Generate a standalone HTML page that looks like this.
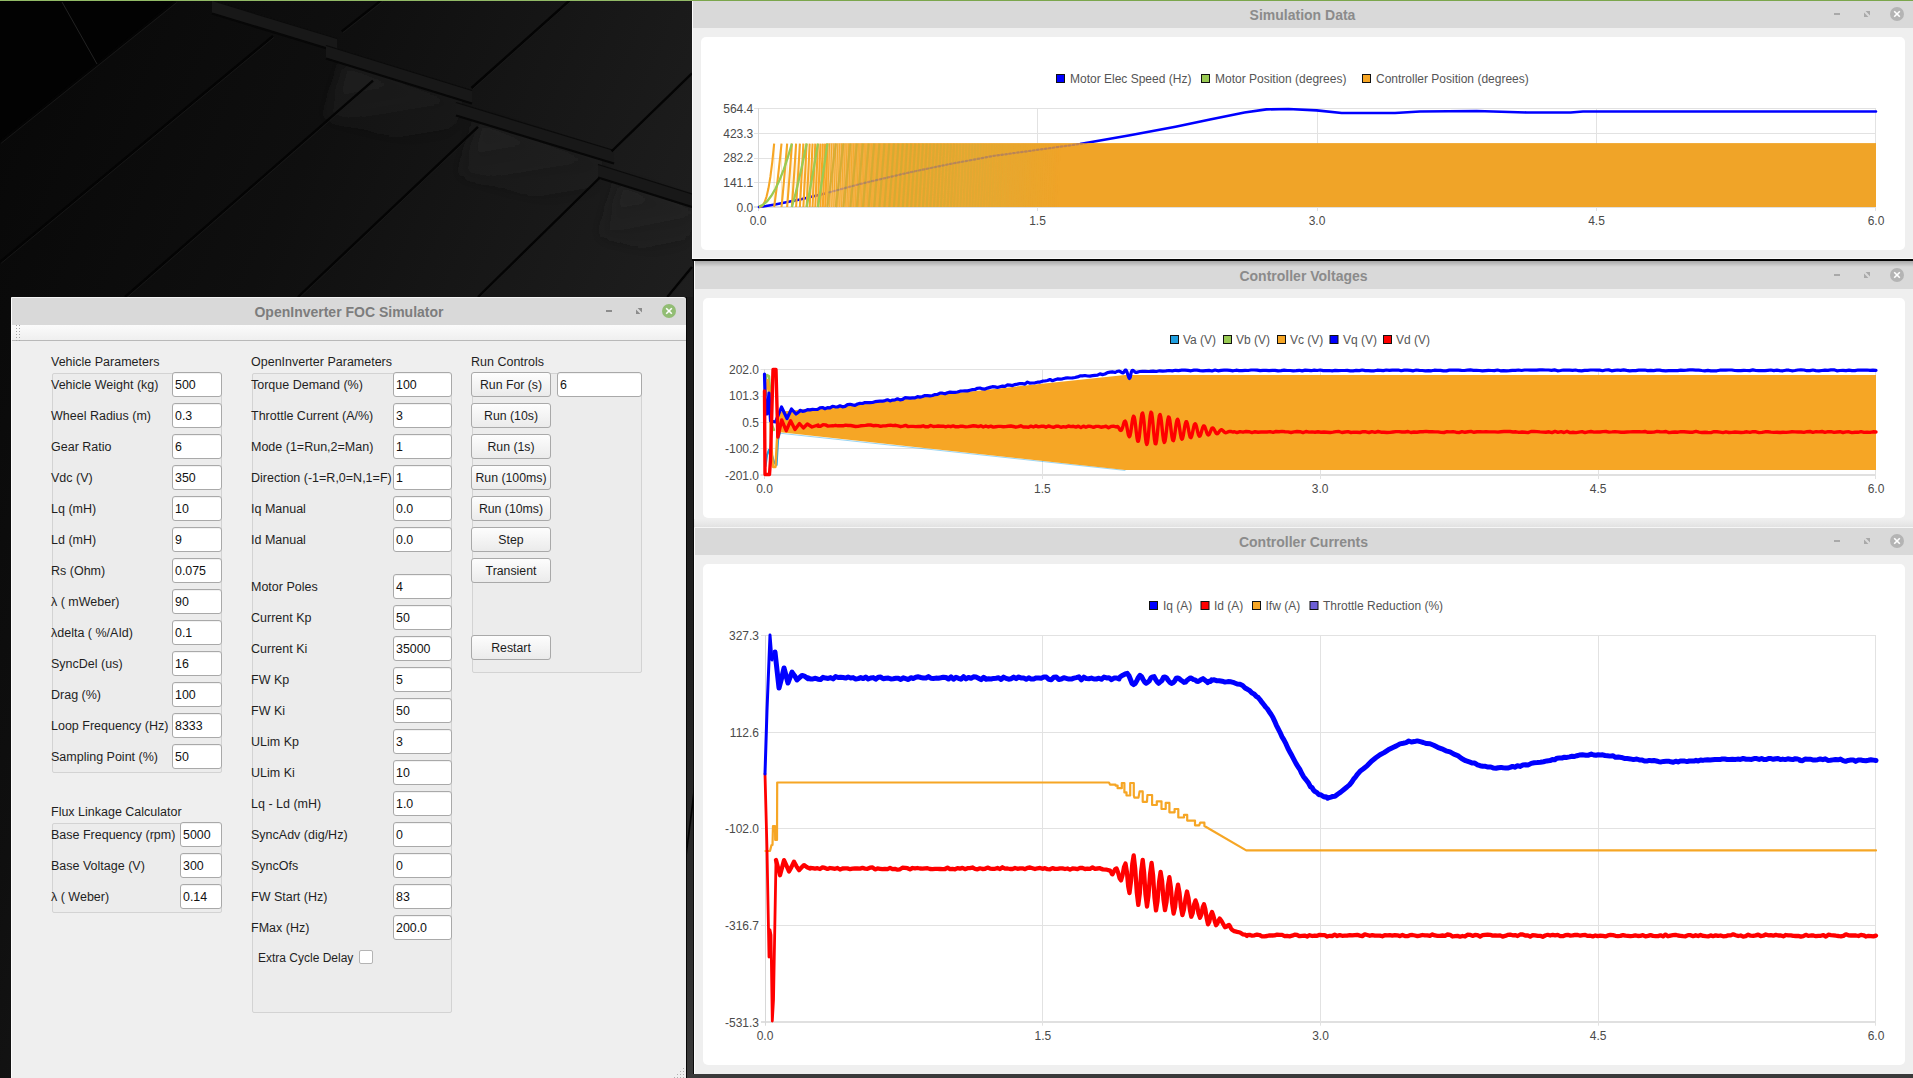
<!DOCTYPE html><html><head><meta charset="utf-8"><title>OpenInverter FOC Simulator</title><style>

*{margin:0;padding:0;box-sizing:border-box}
html,body{width:1913px;height:1078px;overflow:hidden;background:#111}
body{position:relative;font-family:"Liberation Sans",Arial,sans-serif;}
.abs{position:absolute}
.win{position:absolute;background:#efefef;overflow:hidden}
.wl{position:absolute;left:0;top:0;bottom:0;width:1px;background:#fbfbfb}
.tb{position:absolute;left:0;right:0;top:0;height:27px;background:#d9d9d9}
.tt{position:absolute;left:0;right:0;top:6px;text-align:center;font-weight:bold;font-size:14px;line-height:17px;color:#8b8b8b;white-space:nowrap}
.card{position:absolute;background:#fff;border-radius:5px}
.t{position:absolute;white-space:nowrap;font-size:12px;line-height:14px;color:#555}
.lg{position:absolute;width:9px;height:9px;border:1px solid #111}
.wmin{position:absolute;width:6px;height:2px;background:#a9a9a9}
.wcl{position:absolute;width:14px;height:14px;border-radius:50%;background:#b4b4b4}


.dlg{position:absolute;left:11px;top:297px;width:675px;height:790px;background:#efefef;border-left:1px solid #fdfdfd;border-top:1px solid #f4f4f4;border-top-right-radius:3px;overflow:hidden}
.dtb{position:absolute;left:0;right:0;top:0;height:27px;background:#d9d9d9}
.dtt{position:absolute;left:0;right:0;top:6px;text-align:center;font-weight:bold;font-size:14px;line-height:17px;color:#7d7d7d;white-space:nowrap}
.tool{position:absolute;left:0;right:0;top:27px;height:16px;background:linear-gradient(#fbfbfb,#efefef);border-bottom:1px solid #b9b9b9}
.fr{position:absolute;background:#ececec;border:1px solid #d3d3d3;border-radius:2px}
.lb{position:absolute;white-space:nowrap;font-size:12.5px;line-height:15px;color:#1f1f1f}
.in{position:absolute;height:25px;background:#fff;border:1px solid #a9a9a9;border-radius:3px;font-size:12.4px;line-height:25px;padding-left:2px;color:#111;white-space:nowrap;box-shadow:inset 0 1px 0 #f2f2f2}
.bt{position:absolute;width:80px;height:25px;background:linear-gradient(#fdfdfd,#ebebeb);border:1px solid #a9a9a9;border-radius:3px;font-size:12.3px;line-height:25px;text-align:center;color:#1c1c1c;white-space:nowrap}
.cb{position:absolute;width:14px;height:14px;background:#fff;border:1px solid #b4b4b4;border-radius:2px}
.gd{position:absolute;width:1px;height:1px;background:#a4a4a4}

</style></head><body>
<svg class="abs" style="left:0;top:0" width="1913" height="1078" viewBox="0 0 1913 1078">
<defs><linearGradient id="bgg" x1="0" y1="0" x2="700" y2="300" gradientUnits="userSpaceOnUse"><stop offset="0" stop-color="#070707"/><stop offset="0.45" stop-color="#0f0f0f"/><stop offset="1" stop-color="#1f1f1f"/></linearGradient><linearGradient id="rdg" x1="0" y1="0" x2="0" y2="1"><stop offset="0" stop-color="#191919"/><stop offset="1" stop-color="#111"/></linearGradient></defs>
<rect width="1913" height="1078" fill="url(#bgg)"/>
<path d="M0 0H176L0 142Z" fill="#020202"/>
<defs><linearGradient id="shg" x1="0" y1="0" x2="0.25" y2="1"><stop offset="0" stop-color="#262626" stop-opacity="0.8"/><stop offset="1" stop-color="#262626" stop-opacity="0"/></linearGradient><filter id="blr" x="-20%" y="-20%" width="140%" height="140%"><feGaussianBlur stdDeviation="7"/></filter></defs>
<g filter="url(#blr)">
<path d="M345 62 L465 100 L445 155 L325 117 Z" fill="url(#shg)"/>
<path d="M480 119 L605 160 L585 215 L460 174 Z" fill="url(#shg)"/>
<path d="M620 181 L700 207 L680 262 L600 236 Z" fill="url(#shg)"/>
</g>
<path d="M212 0 L337 38 L337 51 L212 13 Z" fill="#181818"/>
<line x1="212" y1="13.5" x2="337" y2="51.5" stroke="#070707" stroke-width="2.2"/>
<line x1="212" y1="0.5" x2="337" y2="38.5" stroke="#0b0b0b" stroke-width="1.2"/>
<path d="M326 45 L472 90 L472 103 L326 58 Z" fill="#181818"/>
<line x1="326" y1="58.5" x2="472" y2="103.5" stroke="#070707" stroke-width="2.2"/>
<line x1="326" y1="45.5" x2="472" y2="90.5" stroke="#0b0b0b" stroke-width="1.2"/>
<path d="M456 102 L614 150 L614 163 L456 115 Z" fill="#181818"/>
<line x1="456" y1="115.5" x2="614" y2="163.5" stroke="#070707" stroke-width="2.2"/>
<line x1="456" y1="102.5" x2="614" y2="150.5" stroke="#0b0b0b" stroke-width="1.2"/>
<path d="M598 164 L700 196 L700 209 L598 177 Z" fill="#181818"/>
<line x1="598" y1="177.5" x2="700" y2="209.5" stroke="#070707" stroke-width="2.2"/>
<line x1="598" y1="164.5" x2="700" y2="196.5" stroke="#0b0b0b" stroke-width="1.2"/>
<line x1="0" y1="142" x2="175.4" y2="1.4" stroke="#040404" stroke-width="2.4"/>
<line x1="1.2" y1="143.2" x2="176.6" y2="2.5999999999999996" stroke="#1a1a1a" stroke-width="0.8"/>
<line x1="0" y1="262" x2="273" y2="36" stroke="#040404" stroke-width="2.4"/>
<line x1="1.2" y1="263.2" x2="274.2" y2="37.2" stroke="#1a1a1a" stroke-width="0.8"/>
<line x1="125" y1="297" x2="373" y2="80.7" stroke="#040404" stroke-width="2.4"/>
<line x1="126.2" y1="298.2" x2="374.2" y2="81.9" stroke="#1a1a1a" stroke-width="0.8"/>
<line x1="341.8" y1="31.4" x2="381.6" y2="0" stroke="#040404" stroke-width="2.4"/>
<line x1="343.0" y1="32.6" x2="382.8" y2="1.2" stroke="#1a1a1a" stroke-width="0.8"/>
<line x1="298" y1="297" x2="478" y2="126.8" stroke="#040404" stroke-width="2.4"/>
<line x1="299.2" y1="298.2" x2="479.2" y2="128.0" stroke="#1a1a1a" stroke-width="0.8"/>
<line x1="471.5" y1="88" x2="570" y2="0" stroke="#040404" stroke-width="2.4"/>
<line x1="472.7" y1="89.2" x2="571.2" y2="1.2" stroke="#1a1a1a" stroke-width="0.8"/>
<line x1="478" y1="297" x2="599.4" y2="178" stroke="#040404" stroke-width="2.4"/>
<line x1="479.2" y1="298.2" x2="600.6" y2="179.2" stroke="#1a1a1a" stroke-width="0.8"/>
<line x1="611.6" y1="151.3" x2="692" y2="73.4" stroke="#040404" stroke-width="2.4"/>
<line x1="612.8000000000001" y1="152.5" x2="693.2" y2="74.60000000000001" stroke="#1a1a1a" stroke-width="0.8"/>
<line x1="667.3" y1="297" x2="692" y2="267" stroke="#040404" stroke-width="2.4"/>
<line x1="668.5" y1="298.2" x2="693.2" y2="268.2" stroke="#1a1a1a" stroke-width="0.8"/>
<line x1="62" y1="2" x2="97" y2="64" stroke="#222" stroke-width="1"/>
<defs><linearGradient id="stg" x1="0" y1="297" x2="0" y2="1078" gradientUnits="userSpaceOnUse"><stop offset="0" stop-color="#1a1a1a"/><stop offset="0.45" stop-color="#1f1f1f"/><stop offset="0.8" stop-color="#2c2c2c"/><stop offset="1" stop-color="#3a3a3a"/></linearGradient></defs>
<rect x="686" y="297" width="8" height="781" fill="url(#stg)"/>
<rect x="686" y="297" width="1" height="781" fill="#060606"/>
<rect x="693" y="261" width="1" height="817" fill="#0a0a0a"/>
<path d="M686 850 L694 785 L694 800 L686 862 Z" fill="#040404"/>
</svg>
<div class="abs" style="left:0;top:0;width:692px;height:1px;background:#92ba66"></div>
<div class="abs" style="left:692px;top:0;width:1221px;height:1px;background:#7ba64c"></div>
<div class="win" style="left:692px;top:1px;width:1221px;height:258px">
<div class="tb" style="height:27px"></div>
<div class="tt" style="top:6px">Simulation Data</div>
<div class="card" style="left:9px;top:36px;width:1204px;height:213px"></div>
<div class="wl"></div>
</div>
<div class="abs" style="left:1834px;top:13px;width:6px;height:2px;background:#a9a9a9"></div>
<svg class="abs" style="left:1864px;top:11px" width="7" height="7" viewBox="0 0 7 7"><path d="M1.6 0H6V4.4Z M0 1.6V6H4.4Z" fill="#a9a9a9"/></svg>
<svg class="abs" style="left:1889px;top:6px" width="16" height="16" viewBox="0 0 16 16"><circle cx="8" cy="8" r="7" fill="#b4b4b4"/><path d="M5.2 5.2L10.8 10.8M10.8 5.2L5.2 10.8" stroke="#fff" stroke-width="1.6"/></svg>
<svg class="abs" style="left:701px;top:37px" width="1204" height="213" viewBox="701 37 1204 213">
<rect x="1056.5" y="74.5" width="8" height="8" fill="#0000ff" stroke="#111" stroke-width="1"/>
<text x="1070" y="83" font-size="12" fill="#555" font-family="'Liberation Sans',Arial,sans-serif">Motor Elec Speed (Hz)</text>
<rect x="1201.5" y="74.5" width="8" height="8" fill="#99ca53" stroke="#111" stroke-width="1"/>
<text x="1215" y="83" font-size="12" fill="#555" font-family="'Liberation Sans',Arial,sans-serif">Motor Position (degrees)</text>
<rect x="1362.5" y="74.5" width="8" height="8" fill="#f6a625" stroke="#111" stroke-width="1"/>
<text x="1376" y="83" font-size="12" fill="#555" font-family="'Liberation Sans',Arial,sans-serif">Controller Position (degrees)</text>
<line x1="754" y1="108.5" x2="1876" y2="108.5" stroke="#e2e2e2" stroke-width="1"/>
<text x="753.3" y="112.8" text-anchor="end" font-size="12" fill="#4a4a4a" font-family="'Liberation Sans',Arial,sans-serif">564.4</text>
<line x1="754" y1="133.5" x2="1876" y2="133.5" stroke="#e2e2e2" stroke-width="1"/>
<text x="753.3" y="137.6" text-anchor="end" font-size="12" fill="#4a4a4a" font-family="'Liberation Sans',Arial,sans-serif">423.3</text>
<line x1="754" y1="158.5" x2="1876" y2="158.5" stroke="#e2e2e2" stroke-width="1"/>
<text x="753.3" y="162.3" text-anchor="end" font-size="12" fill="#4a4a4a" font-family="'Liberation Sans',Arial,sans-serif">282.2</text>
<line x1="754" y1="182.5" x2="1876" y2="182.5" stroke="#e2e2e2" stroke-width="1"/>
<text x="753.3" y="187.1" text-anchor="end" font-size="12" fill="#4a4a4a" font-family="'Liberation Sans',Arial,sans-serif">141.1</text>
<line x1="754" y1="207" x2="1876" y2="207" stroke="#e0e0e0" stroke-width="2"/>
<text x="753.3" y="211.8" text-anchor="end" font-size="12" fill="#4a4a4a" font-family="'Liberation Sans',Arial,sans-serif">0.0</text>
<line x1="758.5" y1="108" x2="758.5" y2="211" stroke="#d8d8d8" stroke-width="1"/>
<text x="758" y="225" text-anchor="middle" font-size="12" fill="#4a4a4a" font-family="'Liberation Sans',Arial,sans-serif">0.0</text>
<line x1="1037.5" y1="108" x2="1037.5" y2="211" stroke="#e2e2e2" stroke-width="1"/>
<text x="1037.5" y="225" text-anchor="middle" font-size="12" fill="#4a4a4a" font-family="'Liberation Sans',Arial,sans-serif">1.5</text>
<line x1="1317.5" y1="108" x2="1317.5" y2="211" stroke="#e2e2e2" stroke-width="1"/>
<text x="1317" y="225" text-anchor="middle" font-size="12" fill="#4a4a4a" font-family="'Liberation Sans',Arial,sans-serif">3.0</text>
<line x1="1596.5" y1="108" x2="1596.5" y2="211" stroke="#e2e2e2" stroke-width="1"/>
<text x="1596.5" y="225" text-anchor="middle" font-size="12" fill="#4a4a4a" font-family="'Liberation Sans',Arial,sans-serif">4.5</text>
<line x1="1875.5" y1="108" x2="1875.5" y2="211" stroke="#e2e2e2" stroke-width="1"/>
<text x="1876" y="225" text-anchor="middle" font-size="12" fill="#4a4a4a" font-family="'Liberation Sans',Arial,sans-serif">6.0</text>
<polyline points="759,207 766,206 775,204.5 800,199.5 825,193.5 860,184 909,172.5 950,164 993,156 1040,149.5 1080,144 1130,135.2 1175.5,126.7 1210,119.5 1244.5,112.5 1266.4,109.4 1288.4,109 1316.6,110.4 1341.7,113 1395,113 1420,111.5 1476.6,111 1526.8,112.5 1570.7,112.5 1583,111.5 1876,111.5" fill="none" stroke="#0000ff" stroke-width="2.6" stroke-linejoin="round" stroke-linecap="round" />
<defs><linearGradient id="bandg" x1="826" y1="0" x2="1060" y2="0" gradientUnits="userSpaceOnUse"><stop offset="0" stop-color="#f9cd86"/><stop offset="0.12" stop-color="#f5bb5e"/><stop offset="0.3" stop-color="#f1ad40"/><stop offset="0.6" stop-color="#f0a832"/><stop offset="1" stop-color="#f0a428"/></linearGradient></defs>
<rect x="826" y="143.1" width="1050" height="63.900000000000006" fill="url(#bandg)"/>
<path d="M774.16,143.6V207M781.51,143.6V207M787.15,143.6V207M791.91,143.6V207M796.10,143.6V207M799.89,143.6V207M803.38,143.6V207M806.62,143.6V207M809.67,143.6V207M812.55,143.6V207M815.29,143.6V207M817.91,143.6V207M820.42,143.6V207M822.84,143.6V207M825.17,143.6V207M827.42,143.6V207" stroke="#f6a625" stroke-width="0.8" stroke-opacity="0.35" fill="none"/>
<path d="M759.00,207.00L760.89,206.72L762.79,205.28L764.68,202.05L766.58,196.54L768.47,188.32L770.37,176.99L772.26,162.20L774.16,143.60M774.16,207.00L775.07,200.26L775.99,193.19L776.91,185.77L777.83,178.02L778.75,169.92L779.67,161.49L780.59,152.71L781.51,143.60M781.51,207.00L782.22,199.78L782.92,192.35L783.63,184.73L784.33,176.90L785.04,168.88L785.74,160.65L786.45,152.23L787.15,143.60M787.15,207.00L789.53,176.44L791.91,143.60M791.91,207.00L794.01,176.18L796.10,143.60M796.10,207.00L798.00,176.02L799.89,143.60M799.89,207.00L801.63,175.91L803.38,143.60M803.38,207.00L805.00,175.83L806.62,143.60M806.62,207.00L808.14,175.77L809.67,143.60M809.67,207.00L811.11,175.72L812.55,143.60M812.55,207.00L813.92,175.68L815.29,143.60M815.29,207.00L816.60,175.64L817.91,143.60M817.91,207.00L819.16,175.62L820.42,143.60M820.42,207.00L821.63,175.59L822.84,143.60M822.84,207.00L824.00,175.57L825.17,143.60M825.17,207.00L826.29,175.56L827.42,143.60" stroke="#f6a625" stroke-width="2.1" fill="none" stroke-linecap="butt"/>
<path d="M827.42,207.00L828.51,175.54L829.61,143.60" stroke="#f2a21c" stroke-width="1.1" stroke-opacity="0.89" fill="none"/>
<path d="M829.61,207.00L830.67,175.53L831.73,143.60" stroke="#f2a21c" stroke-width="1.1" stroke-opacity="0.87" fill="none"/>
<path d="M831.73,207.00L832.76,175.51L833.79,143.60" stroke="#f2a21c" stroke-width="1.1" stroke-opacity="0.86" fill="none"/>
<path d="M833.79,207.00L834.80,175.50L835.81,143.60" stroke="#f2a21c" stroke-width="1.1" stroke-opacity="0.85" fill="none"/>
<path d="M835.81,207.00L836.79,175.49L837.77,143.60" stroke="#f2a21c" stroke-width="1.1" stroke-opacity="0.83" fill="none"/>
<path d="M837.77,207.00L838.72,175.48L839.68,143.60" stroke="#f2a21c" stroke-width="1.1" stroke-opacity="0.82" fill="none"/>
<path d="M839.68,207.00L840.62,175.48L841.55,143.60" stroke="#f2a21c" stroke-width="1.1" stroke-opacity="0.81" fill="none"/>
<path d="M841.55,207.00L842.47,175.47L843.38,143.60" stroke="#f2a21c" stroke-width="1.1" stroke-opacity="0.80" fill="none"/>
<path d="M843.38,207.00L844.28,175.46L845.18,143.60" stroke="#f2a21c" stroke-width="1.1" stroke-opacity="0.78" fill="none"/>
<path d="M845.18,207.00L846.06,175.46L846.94,143.60" stroke="#f2a21c" stroke-width="1.1" stroke-opacity="0.77" fill="none"/>
<path d="M846.94,207.00L847.80,175.45L848.66,143.60" stroke="#f2a21c" stroke-width="1.1" stroke-opacity="0.76" fill="none"/>
<path d="M848.66,207.00L849.51,175.44L850.35,143.60" stroke="#f2a21c" stroke-width="1.1" stroke-opacity="0.75" fill="none"/>
<path d="M850.35,207.00L851.18,175.44L852.02,143.60" stroke="#f2a21c" stroke-width="1.1" stroke-opacity="0.74" fill="none"/>
<path d="M852.02,207.00L852.83,175.43L853.65,143.60" stroke="#f2a21c" stroke-width="1.1" stroke-opacity="0.73" fill="none"/>
<path d="M853.65,207.00L854.45,175.43L855.26,143.60" stroke="#f2a21c" stroke-width="1.1" stroke-opacity="0.71" fill="none"/>
<path d="M855.26,207.00L856.05,175.43L856.84,143.60" stroke="#f2a21c" stroke-width="1.1" stroke-opacity="0.70" fill="none"/>
<path d="M856.84,207.00L857.62,175.42L858.40,143.60" stroke="#f2a21c" stroke-width="1.1" stroke-opacity="0.69" fill="none"/>
<path d="M858.40,207.00L859.16,175.42L859.93,143.60" stroke="#f2a21c" stroke-width="1.1" stroke-opacity="0.68" fill="none"/>
<path d="M859.93,207.00L860.69,175.41L861.44,143.60" stroke="#f2a21c" stroke-width="1.1" stroke-opacity="0.67" fill="none"/>
<path d="M861.44,207.00L862.19,175.41L862.93,143.60" stroke="#f2a21c" stroke-width="1.1" stroke-opacity="0.66" fill="none"/>
<path d="M862.93,207.00L863.67,175.41L864.40,143.60" stroke="#f2a21c" stroke-width="1.1" stroke-opacity="0.65" fill="none"/>
<path d="M864.40,207.00L865.13,175.41L865.85,143.60" stroke="#f2a21c" stroke-width="1.1" stroke-opacity="0.64" fill="none"/>
<path d="M865.85,207.00L866.57,175.40L867.28,143.60" stroke="#f2a21c" stroke-width="1.1" stroke-opacity="0.63" fill="none"/>
<path d="M867.28,207.00L867.99,175.40L868.70,143.60" stroke="#f2a21c" stroke-width="1.1" stroke-opacity="0.62" fill="none"/>
<path d="M868.70,207.00L869.39,175.40L870.09,143.60" stroke="#f2a21c" stroke-width="1.1" stroke-opacity="0.61" fill="none"/>
<path d="M870.09,207.00L870.78,175.40L871.47,143.60" stroke="#f2a21c" stroke-width="1.1" stroke-opacity="0.60" fill="none"/>
<path d="M871.47,207.00L872.15,175.39L872.83,143.60" stroke="#f2a21c" stroke-width="1.1" stroke-opacity="0.59" fill="none"/>
<path d="M872.83,207.00L873.50,175.39L874.18,143.60" stroke="#f2a21c" stroke-width="1.1" stroke-opacity="0.59" fill="none"/>
<path d="M874.18,207.00L874.84,175.39L875.51,143.60" stroke="#f2a21c" stroke-width="1.1" stroke-opacity="0.58" fill="none"/>
<path d="M875.51,207.00L876.17,175.39L876.82,143.60" stroke="#f2a21c" stroke-width="1.1" stroke-opacity="0.57" fill="none"/>
<path d="M876.82,207.00L877.47,175.39L878.13,143.60" stroke="#f2a21c" stroke-width="1.1" stroke-opacity="0.56" fill="none"/>
<path d="M878.13,207.00L878.77,175.38L879.41,143.60" stroke="#f2a21c" stroke-width="1.1" stroke-opacity="0.55" fill="none"/>
<path d="M879.41,207.00L880.05,175.38L880.69,143.60" stroke="#f2a21c" stroke-width="1.1" stroke-opacity="0.54" fill="none"/>
<path d="M880.69,207.00L881.32,175.38L881.95,143.60" stroke="#f2a21c" stroke-width="1.1" stroke-opacity="0.53" fill="none"/>
<path d="M881.95,207.00L882.58,175.38L883.20,143.60" stroke="#f2a21c" stroke-width="1.1" stroke-opacity="0.52" fill="none"/>
<path d="M883.20,207.00L883.82,175.38L884.44,143.60" stroke="#f2a21c" stroke-width="1.1" stroke-opacity="0.52" fill="none"/>
<path d="M884.44,207.00L885.05,175.38L885.66,143.60" stroke="#f2a21c" stroke-width="1.1" stroke-opacity="0.51" fill="none"/>
<path d="M885.66,207.00L886.27,175.37L886.88,143.60" stroke="#f2a21c" stroke-width="1.1" stroke-opacity="0.50" fill="none"/>
<path d="M886.88,207.00L887.48,175.37L888.08,143.60" stroke="#f2a21c" stroke-width="1.1" stroke-opacity="0.49" fill="none"/>
<path d="M888.08,207.00L888.67,175.37L889.27,143.60" stroke="#f2a21c" stroke-width="1.1" stroke-opacity="0.48" fill="none"/>
<path d="M889.27,207.00L889.86,175.37L890.45,143.60" stroke="#f2a21c" stroke-width="1.1" stroke-opacity="0.47" fill="none"/>
<path d="M890.45,207.00L891.04,175.37L891.62,143.60" stroke="#f2a21c" stroke-width="1.1" stroke-opacity="0.47" fill="none"/>
<path d="M891.62,207.00L892.20,175.37L892.78,143.60" stroke="#f2a21c" stroke-width="1.1" stroke-opacity="0.46" fill="none"/>
<path d="M892.78,207.00L893.36,175.37L893.93,143.60" stroke="#f2a21c" stroke-width="1.1" stroke-opacity="0.45" fill="none"/>
<path d="M893.93,207.00L894.50,175.37L895.08,143.60" stroke="#f2a21c" stroke-width="1.1" stroke-opacity="0.44" fill="none"/>
<path d="M895.08,207.00L895.64,175.36L896.21,143.60" stroke="#f2a21c" stroke-width="1.1" stroke-opacity="0.43" fill="none"/>
<path d="M896.21,207.00L896.77,175.36L897.33,143.60" stroke="#f2a21c" stroke-width="1.1" stroke-opacity="0.43" fill="none"/>
<path d="M897.33,207.00L897.89,175.36L898.44,143.60" stroke="#f2a21c" stroke-width="1.1" stroke-opacity="0.42" fill="none"/>
<path d="M898.44,207.00L899.00,175.36L899.55,143.60" stroke="#f2a21c" stroke-width="1.1" stroke-opacity="0.41" fill="none"/>
<path d="M899.55,207.00L900.10,175.36L900.65,143.60" stroke="#f2a21c" stroke-width="1.1" stroke-opacity="0.40" fill="none"/>
<path d="M900.65,207.00L901.19,175.36L901.74,143.60" stroke="#f2a21c" stroke-width="1.1" stroke-opacity="0.40" fill="none"/>
<path d="M901.74,207.00L902.28,175.36L902.82,143.60" stroke="#f2a21c" stroke-width="1.1" stroke-opacity="0.39" fill="none"/>
<path d="M902.82,207.00L903.35,175.36L903.89,143.60" stroke="#f2a21c" stroke-width="1.1" stroke-opacity="0.38" fill="none"/>
<path d="M903.89,207.00L904.42,175.36L904.95,143.60" stroke="#f2a21c" stroke-width="1.1" stroke-opacity="0.38" fill="none"/>
<path d="M904.95,207.00L905.48,175.36L906.01,143.60" stroke="#f2a21c" stroke-width="1.1" stroke-opacity="0.37" fill="none"/>
<path d="M906.01,207.00L906.54,175.36L907.06,143.60" stroke="#f2a21c" stroke-width="1.1" stroke-opacity="0.36" fill="none"/>
<path d="M907.06,207.00L907.58,175.35L908.10,143.60" stroke="#f2a21c" stroke-width="1.1" stroke-opacity="0.35" fill="none"/>
<path d="M908.10,207.00L908.62,175.35L909.14,143.60" stroke="#f2a21c" stroke-width="1.1" stroke-opacity="0.35" fill="none"/>
<path d="M909.14,207.00L909.65,175.35L910.17,143.60" stroke="#f2a21c" stroke-width="1.1" stroke-opacity="0.34" fill="none"/>
<path d="M910.17,207.00L910.68,175.35L911.19,143.60" stroke="#f2a21c" stroke-width="1.1" stroke-opacity="0.33" fill="none"/>
<path d="M911.19,207.00L911.70,175.35L912.20,143.60" stroke="#f2a21c" stroke-width="1.1" stroke-opacity="0.33" fill="none"/>
<path d="M912.20,207.00L912.71,175.35L913.21,143.60" stroke="#f2a21c" stroke-width="1.1" stroke-opacity="0.32" fill="none"/>
<path d="M913.21,207.00L913.71,175.35L914.21,143.60" stroke="#f2a21c" stroke-width="1.1" stroke-opacity="0.31" fill="none"/>
<path d="M914.21,207.00L914.71,175.35L915.21,143.60" stroke="#f2a21c" stroke-width="1.1" stroke-opacity="0.31" fill="none"/>
<path d="M915.21,207.00L915.70,175.35L916.20,143.60" stroke="#f2a21c" stroke-width="1.1" stroke-opacity="0.30" fill="none"/>
<path d="M916.20,207.00L916.69,175.35L917.18,143.60" stroke="#f2a21c" stroke-width="1.1" stroke-opacity="0.29" fill="none"/>
<path d="M917.18,207.00L917.67,175.35L918.16,143.60" stroke="#f2a21c" stroke-width="1.1" stroke-opacity="0.29" fill="none"/>
<path d="M918.16,207.00L918.65,175.35L919.13,143.60" stroke="#f2a21c" stroke-width="1.1" stroke-opacity="0.28" fill="none"/>
<path d="M919.13,207.00L919.61,175.35L920.10,143.60" stroke="#f2a21c" stroke-width="1.1" stroke-opacity="0.27" fill="none"/>
<path d="M920.10,207.00L920.58,175.35L921.06,143.60" stroke="#f2a21c" stroke-width="1.1" stroke-opacity="0.27" fill="none"/>
<path d="M921.06,207.00L921.54,175.35L922.01,143.60" stroke="#f2a21c" stroke-width="1.1" stroke-opacity="0.26" fill="none"/>
<path d="M922.01,207.00L922.49,175.35L922.96,143.60" stroke="#f2a21c" stroke-width="1.1" stroke-opacity="0.25" fill="none"/>
<path d="M922.96,207.00L923.43,175.34L923.91,143.60" stroke="#f2a21c" stroke-width="1.1" stroke-opacity="0.25" fill="none"/>
<path d="M923.91,207.00L924.37,175.34L924.84,143.60" stroke="#f2a21c" stroke-width="1.1" stroke-opacity="0.24" fill="none"/>
<path d="M924.84,207.00L925.31,175.34L925.78,143.60" stroke="#f2a21c" stroke-width="1.1" stroke-opacity="0.23" fill="none"/>
<path d="M925.78,207.00L926.24,175.34L926.70,143.60" stroke="#f2a21c" stroke-width="1.1" stroke-opacity="0.23" fill="none"/>
<path d="M926.70,207.00L927.17,175.34L927.63,143.60" stroke="#f2a21c" stroke-width="1.1" stroke-opacity="0.22" fill="none"/>
<path d="M927.63,207.00L928.09,175.34L928.55,143.60" stroke="#f2a21c" stroke-width="1.1" stroke-opacity="0.21" fill="none"/>
<path d="M928.55,207.00L929.00,175.34L929.46,143.60" stroke="#f2a21c" stroke-width="1.1" stroke-opacity="0.21" fill="none"/>
<path d="M929.46,207.00L929.91,175.34L930.37,143.60" stroke="#f2a21c" stroke-width="1.1" stroke-opacity="0.20" fill="none"/>
<path d="M930.37,207.00L930.82,175.34L931.27,143.60" stroke="#f2a21c" stroke-width="1.1" stroke-opacity="0.20" fill="none"/>
<path d="M931.27,207.00L931.72,175.34L932.17,143.60" stroke="#f2a21c" stroke-width="1.1" stroke-opacity="0.19" fill="none"/>
<path d="M932.17,207.00L932.62,175.34L933.07,143.60" stroke="#f2a21c" stroke-width="1.1" stroke-opacity="0.18" fill="none"/>
<path d="M933.07,207.00L933.51,175.34L933.96,143.60" stroke="#f2a21c" stroke-width="1.1" stroke-opacity="0.18" fill="none"/>
<path d="M933.96,207.00L934.40,175.34L934.84,143.60" stroke="#f2a21c" stroke-width="1.1" stroke-opacity="0.17" fill="none"/>
<path d="M934.84,207.00L935.28,175.34L935.72,143.60" stroke="#f2a21c" stroke-width="1.1" stroke-opacity="0.17" fill="none"/>
<path d="M935.72,207.00L936.16,175.34L936.60,143.60" stroke="#f2a21c" stroke-width="1.1" stroke-opacity="0.16" fill="none"/>
<path d="M936.60,207.00L937.04,175.34L937.47,143.60" stroke="#f2a21c" stroke-width="1.1" stroke-opacity="0.15" fill="none"/>
<path d="M937.47,207.00L937.91,175.34L938.34,143.60" stroke="#f2a21c" stroke-width="1.1" stroke-opacity="0.15" fill="none"/>
<path d="M938.34,207.00L938.77,175.34L939.20,143.60" stroke="#f2a21c" stroke-width="1.1" stroke-opacity="0.14" fill="none"/>
<path d="M939.20,207.00L939.63,175.34L940.06,143.60" stroke="#f2a21c" stroke-width="1.1" stroke-opacity="0.14" fill="none"/>
<path d="M940.06,207.00L940.49,175.34L940.92,143.60" stroke="#f2a21c" stroke-width="1.1" stroke-opacity="0.13" fill="none"/>
<path d="M940.92,207.00L941.35,175.34L941.77,143.60" stroke="#f2a21c" stroke-width="1.1" stroke-opacity="0.12" fill="none"/>
<path d="M941.77,207.00L942.20,175.34L942.62,143.60" stroke="#f2a21c" stroke-width="1.1" stroke-opacity="0.12" fill="none"/>
<path d="M942.62,207.00L943.04,175.34L943.47,143.60" stroke="#f2a21c" stroke-width="1.1" stroke-opacity="0.11" fill="none"/>
<path d="M943.47,207.00L943.89,175.34L944.31,143.60" stroke="#f2a21c" stroke-width="1.1" stroke-opacity="0.11" fill="none"/>
<path d="M944.31,207.00L944.73,175.34L945.14,143.60" stroke="#f2a21c" stroke-width="1.1" stroke-opacity="0.10" fill="none"/>
<path d="M945.14,207.00L945.56,175.33L945.98,143.60" stroke="#f2a21c" stroke-width="1.1" stroke-opacity="0.10" fill="none"/>
<path d="M945.98,207.00L946.39,175.33L946.81,143.60" stroke="#f2a21c" stroke-width="1.1" stroke-opacity="0.09" fill="none"/>
<path d="M946.81,207.00L947.22,175.33L947.63,143.60" stroke="#f2a21c" stroke-width="1.1" stroke-opacity="0.08" fill="none"/>
<path d="M947.63,207.00L948.04,175.33L948.46,143.60" stroke="#f2a21c" stroke-width="1.1" stroke-opacity="0.08" fill="none"/>
<path d="M948.46,207.00L948.86,175.33L949.27,143.60" stroke="#f2a21c" stroke-width="1.1" stroke-opacity="0.07" fill="none"/>
<path d="M949.27,207.00L949.68,175.33L950.09,143.60" stroke="#f2a21c" stroke-width="1.1" stroke-opacity="0.07" fill="none"/>
<path d="M950.09,207.00L950.50,175.33L950.90,143.60" stroke="#f2a21c" stroke-width="1.1" stroke-opacity="0.06" fill="none"/>
<path d="M950.90,207.00L951.31,175.33L951.71,143.60" stroke="#f2a21c" stroke-width="1.1" stroke-opacity="0.06" fill="none"/>
<path d="M951.71,207.00L952.11,175.33L952.52,143.60" stroke="#f2a21c" stroke-width="1.1" stroke-opacity="0.05" fill="none"/>
<path d="M952.52,207.00L952.92,175.33L953.32,143.60" stroke="#f2a21c" stroke-width="1.1" stroke-opacity="0.05" fill="none"/>
<path d="M953.32,207.00L953.72,175.33L954.12,143.60" stroke="#f2a21c" stroke-width="1.1" stroke-opacity="0.04" fill="none"/>
<path d="M954.12,207.00L954.51,175.33L954.91,143.60" stroke="#f2a21c" stroke-width="1.1" stroke-opacity="0.03" fill="none"/>
<path d="M954.91,207.00L955.31,175.33L955.71,143.60" stroke="#f2a21c" stroke-width="1.1" stroke-opacity="0.03" fill="none"/>
<path d="M955.71,207.00L956.10,175.33L956.49,143.60" stroke="#f2a21c" stroke-width="1.1" stroke-opacity="0.02" fill="none"/>
<path d="M956.49,207.00L956.89,175.33L957.28,143.60" stroke="#f2a21c" stroke-width="1.1" stroke-opacity="0.02" fill="none"/>
<path d="M957.28,207.00L957.67,175.33L958.06,143.60" stroke="#f2a21c" stroke-width="1.1" stroke-opacity="0.01" fill="none"/>
<path d="M958.06,207.00L958.45,175.33L958.84,143.60" stroke="#f2a21c" stroke-width="1.1" stroke-opacity="0.01" fill="none"/>
<path d="M958.84,207.00L959.23,175.33L959.62,143.60" stroke="#f2a21c" stroke-width="1.1" stroke-opacity="0.00" fill="none"/>
<path d="M759.00,206.66L763.11,204.73L767.23,201.11L771.34,195.78L775.46,188.74L779.57,180.01L783.68,169.58L787.80,157.44L791.91,143.60" stroke="#99ca53" stroke-width="2.3" fill="none"/>
<path d="M791.91,207.00L793.75,200.26L795.59,193.19L797.43,185.77L799.27,178.02L801.10,169.92L802.94,161.49L804.78,152.71L806.62,143.60" stroke="#99ca53" stroke-width="2.3" fill="none"/>
<path d="M806.62,207.00L808.03,199.78L809.44,192.35L810.85,184.73L812.26,176.90L813.67,168.88L815.09,160.65L816.50,152.23L817.91,143.60" stroke="#99ca53" stroke-width="2.3" fill="none"/>
<path d="M817.91,207.00L822.66,176.44L827.42,143.60" stroke="#99ca53" stroke-width="2.3" fill="none"/>
<path d="M827.42,207.00L831.61,176.18L835.81,143.60" stroke="#cfab32" stroke-width="2.2" stroke-opacity="0.85" fill="none"/>
<path d="M835.81,207.00L839.59,176.02L843.38,143.60" stroke="#cfab32" stroke-width="2.2" stroke-opacity="0.85" fill="none"/>
<path d="M843.38,207.00L846.87,175.91L850.35,143.60" stroke="#cfab32" stroke-width="2.2" stroke-opacity="0.85" fill="none"/>
<path d="M850.35,207.00L853.60,175.83L856.84,143.60" stroke="#cfab32" stroke-width="2.2" stroke-opacity="0.85" fill="none"/>
<path d="M856.84,207.00L859.89,175.77L862.93,143.60" stroke="#cfab32" stroke-width="2.2" stroke-opacity="0.85" fill="none"/>
<path d="M862.93,207.00L865.81,175.72L868.70,143.60" stroke="#cfab32" stroke-width="2.2" stroke-opacity="0.85" fill="none"/>
<path d="M868.70,207.00L871.44,175.68L874.18,143.60" stroke="#cfab32" stroke-width="2.2" stroke-opacity="0.85" fill="none"/>
<path d="M874.18,207.00L876.80,175.64L879.41,143.60" stroke="#cfab32" stroke-width="2.2" stroke-opacity="0.85" fill="none"/>
<path d="M879.41,207.00L881.93,175.62L884.44,143.60" stroke="#cfab32" stroke-width="2.2" stroke-opacity="0.85" fill="none"/>
<path d="M884.44,207.00L886.85,175.59L889.27,143.60" stroke="#cfab32" stroke-width="2.2" stroke-opacity="0.85" fill="none"/>
<path d="M889.27,207.00L891.60,175.57L893.93,143.60" stroke="#cfab32" stroke-width="2.2" stroke-opacity="0.85" fill="none"/>
<path d="M893.93,207.00L896.19,175.56L898.44,143.60" stroke="#cfab32" stroke-width="2.2" stroke-opacity="0.85" fill="none"/>
<path d="M898.44,207.00L900.63,175.54L902.82,143.60" stroke="#cfab32" stroke-width="2.2" stroke-opacity="0.84" fill="none"/>
<path d="M902.82,207.00L904.94,175.53L907.06,143.60" stroke="#cfab32" stroke-width="2.2" stroke-opacity="0.81" fill="none"/>
<path d="M907.06,207.00L909.12,175.51L911.19,143.60" stroke="#cfab32" stroke-width="2.2" stroke-opacity="0.79" fill="none"/>
<path d="M911.19,207.00L913.20,175.50L915.21,143.60" stroke="#cfab32" stroke-width="2.2" stroke-opacity="0.77" fill="none"/>
<path d="M915.21,207.00L917.17,175.49L919.13,143.60" stroke="#cfab32" stroke-width="2.2" stroke-opacity="0.75" fill="none"/>
<path d="M919.13,207.00L921.05,175.48L922.96,143.60" stroke="#cfab32" stroke-width="2.2" stroke-opacity="0.73" fill="none"/>
<path d="M922.96,207.00L924.83,175.48L926.70,143.60" stroke="#cfab32" stroke-width="2.2" stroke-opacity="0.71" fill="none"/>
<path d="M926.70,207.00L928.54,175.47L930.37,143.60" stroke="#cfab32" stroke-width="2.2" stroke-opacity="0.69" fill="none"/>
<path d="M930.37,207.00L932.16,175.46L933.96,143.60" stroke="#cfab32" stroke-width="2.2" stroke-opacity="0.67" fill="none"/>
<path d="M933.96,207.00L935.71,175.46L937.47,143.60" stroke="#cfab32" stroke-width="2.2" stroke-opacity="0.65" fill="none"/>
<path d="M937.47,207.00L939.20,175.45L940.92,143.60" stroke="#cfab32" stroke-width="2.2" stroke-opacity="0.64" fill="none"/>
<path d="M940.92,207.00L942.61,175.44L944.31,143.60" stroke="#cfab32" stroke-width="2.2" stroke-opacity="0.62" fill="none"/>
<path d="M944.31,207.00L945.97,175.44L947.63,143.60" stroke="#cfab32" stroke-width="2.2" stroke-opacity="0.60" fill="none"/>
<path d="M947.63,207.00L949.27,175.43L950.90,143.60" stroke="#cfab32" stroke-width="2.2" stroke-opacity="0.58" fill="none"/>
<path d="M950.90,207.00L952.51,175.43L954.12,143.60" stroke="#cfab32" stroke-width="2.2" stroke-opacity="0.57" fill="none"/>
<path d="M954.12,207.00L955.70,175.43L957.28,143.60" stroke="#cfab32" stroke-width="2.2" stroke-opacity="0.55" fill="none"/>
<path d="M957.28,207.00L958.84,175.42L960.40,143.60" stroke="#cfab32" stroke-width="2.2" stroke-opacity="0.53" fill="none"/>
<path d="M960.40,207.00L961.93,175.42L963.46,143.60" stroke="#cfab32" stroke-width="2.2" stroke-opacity="0.52" fill="none"/>
<path d="M963.46,207.00L964.97,175.41L966.49,143.60" stroke="#cfab32" stroke-width="2.2" stroke-opacity="0.50" fill="none"/>
<path d="M966.49,207.00L967.98,175.41L969.47,143.60" stroke="#cfab32" stroke-width="2.2" stroke-opacity="0.49" fill="none"/>
<path d="M969.47,207.00L970.94,175.41L972.41,143.60" stroke="#cfab32" stroke-width="2.2" stroke-opacity="0.47" fill="none"/>
<path d="M972.41,207.00L973.85,175.41L975.30,143.60" stroke="#cfab32" stroke-width="2.2" stroke-opacity="0.45" fill="none"/>
<path d="M975.30,207.00L976.74,175.40L978.17,143.60" stroke="#cfab32" stroke-width="2.2" stroke-opacity="0.44" fill="none"/>
<path d="M978.17,207.00L979.58,175.40L980.99,143.60" stroke="#cfab32" stroke-width="2.2" stroke-opacity="0.43" fill="none"/>
<path d="M980.99,207.00L982.39,175.40L983.78,143.60" stroke="#cfab32" stroke-width="2.2" stroke-opacity="0.41" fill="none"/>
<path d="M983.78,207.00L985.16,175.40L986.54,143.60" stroke="#cfab32" stroke-width="2.2" stroke-opacity="0.40" fill="none"/>
<path d="M986.54,207.00L987.90,175.39L989.26,143.60" stroke="#cfab32" stroke-width="2.2" stroke-opacity="0.38" fill="none"/>
<path d="M989.26,207.00L990.61,175.39L991.95,143.60" stroke="#cfab32" stroke-width="2.2" stroke-opacity="0.37" fill="none"/>
<path d="M991.95,207.00L993.28,175.39L994.62,143.60" stroke="#cfab32" stroke-width="2.2" stroke-opacity="0.35" fill="none"/>
<path d="M994.62,207.00L995.93,175.39L997.25,143.60" stroke="#cfab32" stroke-width="2.2" stroke-opacity="0.34" fill="none"/>
<path d="M997.25,207.00L998.55,175.39L999.85,143.60" stroke="#cfab32" stroke-width="2.2" stroke-opacity="0.33" fill="none"/>
<path d="M999.85,207.00L1001.14,175.38L1002.43,143.60" stroke="#cfab32" stroke-width="2.2" stroke-opacity="0.31" fill="none"/>
<path d="M1002.43,207.00L1003.70,175.38L1004.98,143.60" stroke="#cfab32" stroke-width="2.2" stroke-opacity="0.30" fill="none"/>
<path d="M1004.98,207.00L1006.24,175.38L1007.50,143.60" stroke="#cfab32" stroke-width="2.2" stroke-opacity="0.29" fill="none"/>
<path d="M1007.50,207.00L1008.75,175.38L1010.00,143.60" stroke="#cfab32" stroke-width="2.2" stroke-opacity="0.27" fill="none"/>
<path d="M1010.00,207.00L1011.24,175.38L1012.47,143.60" stroke="#cfab32" stroke-width="2.2" stroke-opacity="0.26" fill="none"/>
<path d="M1012.47,207.00L1013.70,175.38L1014.92,143.60" stroke="#cfab32" stroke-width="2.2" stroke-opacity="0.25" fill="none"/>
<path d="M1014.92,207.00L1016.14,175.37L1017.35,143.60" stroke="#cfab32" stroke-width="2.2" stroke-opacity="0.23" fill="none"/>
<path d="M1017.35,207.00L1018.55,175.37L1019.76,143.60" stroke="#cfab32" stroke-width="2.2" stroke-opacity="0.22" fill="none"/>
<path d="M1019.76,207.00L1020.95,175.37L1022.14,143.60" stroke="#cfab32" stroke-width="2.2" stroke-opacity="0.21" fill="none"/>
<path d="M1022.14,207.00L1023.32,175.37L1024.50,143.60" stroke="#cfab32" stroke-width="2.2" stroke-opacity="0.20" fill="none"/>
<path d="M1024.50,207.00L1025.67,175.37L1026.84,143.60" stroke="#cfab32" stroke-width="2.2" stroke-opacity="0.18" fill="none"/>
<path d="M1026.84,207.00L1028.00,175.37L1029.17,143.60" stroke="#cfab32" stroke-width="2.2" stroke-opacity="0.17" fill="none"/>
<path d="M1029.17,207.00L1030.32,175.37L1031.47,143.60" stroke="#cfab32" stroke-width="2.2" stroke-opacity="0.16" fill="none"/>
<path d="M1031.47,207.00L1032.61,175.37L1033.75,143.60" stroke="#cfab32" stroke-width="2.2" stroke-opacity="0.15" fill="none"/>
<path d="M1033.75,207.00L1034.88,175.36L1036.01,143.60" stroke="#cfab32" stroke-width="2.2" stroke-opacity="0.14" fill="none"/>
<path d="M1036.01,207.00L1037.14,175.36L1038.26,143.60" stroke="#cfab32" stroke-width="2.2" stroke-opacity="0.12" fill="none"/>
<path d="M1038.26,207.00L1039.37,175.36L1040.49,143.60" stroke="#cfab32" stroke-width="2.2" stroke-opacity="0.11" fill="none"/>
<path d="M1040.49,207.00L1041.59,175.36L1042.70,143.60" stroke="#cfab32" stroke-width="2.2" stroke-opacity="0.10" fill="none"/>
<path d="M1042.70,207.00L1043.80,175.36L1044.89,143.60" stroke="#cfab32" stroke-width="2.2" stroke-opacity="0.09" fill="none"/>
<path d="M1044.89,207.00L1045.98,175.36L1047.07,143.60" stroke="#cfab32" stroke-width="2.2" stroke-opacity="0.08" fill="none"/>
<path d="M1047.07,207.00L1048.15,175.36L1049.23,143.60" stroke="#cfab32" stroke-width="2.2" stroke-opacity="0.07" fill="none"/>
<path d="M1049.23,207.00L1050.30,175.36L1051.38,143.60" stroke="#cfab32" stroke-width="2.2" stroke-opacity="0.06" fill="none"/>
<path d="M1051.38,207.00L1052.44,175.36L1053.51,143.60" stroke="#cfab32" stroke-width="2.2" stroke-opacity="0.04" fill="none"/>
<path d="M1053.51,207.00L1054.56,175.36L1055.62,143.60" stroke="#cfab32" stroke-width="2.2" stroke-opacity="0.03" fill="none"/>
<path d="M1055.62,207.00L1056.67,175.36L1057.72,143.60" stroke="#cfab32" stroke-width="2.2" stroke-opacity="0.02" fill="none"/>
<path d="M1057.72,207.00L1058.76,175.35L1059.81,143.60" stroke="#cfab32" stroke-width="2.2" stroke-opacity="0.01" fill="none"/>
<path d="M1059.81,207.00L1060.84,175.35L1061.88,143.60" stroke="#cfab32" stroke-width="2.2" stroke-opacity="0.00" fill="none"/>
<defs><clipPath id="c1clip"><rect x="828" y="140" width="260" height="70"/></clipPath></defs>
<g clip-path="url(#c1clip)"><polyline points="759,207 766,206 775,204.5 800,199.5 825,193.5 860,184 909,172.5 950,164 993,156 1040,149.5 1080,144 1130,135.2 1175.5,126.7 1210,119.5 1244.5,112.5 1266.4,109.4 1288.4,109 1316.6,110.4 1341.7,113 1395,113 1420,111.5 1476.6,111 1526.8,112.5 1570.7,112.5 1583,111.5 1876,111.5" fill="none" stroke="#0000ff" stroke-width="2.2" stroke-linejoin="round" stroke-linecap="round" stroke-opacity="0.2" stroke-dasharray="1.6 2.4"/></g>
</svg>
<div class="abs" style="left:692px;top:258px;width:1221px;height:1px;background:#fafafa"></div>
<div class="abs" style="left:692px;top:259px;width:1221px;height:2px;background:#050505"></div>
<div class="win" style="left:694px;top:261px;width:1219px;height:266px">
<div class="tb" style="height:28px"></div>
<div class="abs" style="left:0;right:0;top:0;height:6px;background:linear-gradient(#a9a9a9,#d9d9d9)"></div>
<div class="tt" style="top:7px">Controller Voltages</div>
<div class="card" style="left:9px;top:37px;width:1202px;height:220px"></div>
<div class="wl"></div>
</div>
<div class="abs" style="left:1834px;top:274px;width:6px;height:2px;background:#a9a9a9"></div>
<svg class="abs" style="left:1864px;top:272px" width="7" height="7" viewBox="0 0 7 7"><path d="M1.6 0H6V4.4Z M0 1.6V6H4.4Z" fill="#a9a9a9"/></svg>
<svg class="abs" style="left:1889px;top:267px" width="16" height="16" viewBox="0 0 16 16"><circle cx="8" cy="8" r="7" fill="#b4b4b4"/><path d="M5.2 5.2L10.8 10.8M10.8 5.2L5.2 10.8" stroke="#fff" stroke-width="1.6"/></svg>
<svg class="abs" style="left:703px;top:298px" width="1202" height="220" viewBox="703 298 1202 220">
<rect x="1170.5" y="335.5" width="8" height="8" fill="#209fdf" stroke="#111" stroke-width="1"/>
<text x="1183" y="344" font-size="12" fill="#555" font-family="'Liberation Sans',Arial,sans-serif">Va (V)</text>
<rect x="1223.5" y="335.5" width="8" height="8" fill="#99ca53" stroke="#111" stroke-width="1"/>
<text x="1236" y="344" font-size="12" fill="#555" font-family="'Liberation Sans',Arial,sans-serif">Vb (V)</text>
<rect x="1277.5" y="335.5" width="8" height="8" fill="#f6a625" stroke="#111" stroke-width="1"/>
<text x="1290" y="344" font-size="12" fill="#555" font-family="'Liberation Sans',Arial,sans-serif">Vc (V)</text>
<rect x="1330.0" y="335.5" width="8" height="8" fill="#0000ff" stroke="#111" stroke-width="1"/>
<text x="1343" y="344" font-size="12" fill="#555" font-family="'Liberation Sans',Arial,sans-serif">Vq (V)</text>
<rect x="1383.5" y="335.5" width="8" height="8" fill="#ff0000" stroke="#111" stroke-width="1"/>
<text x="1396" y="344" font-size="12" fill="#555" font-family="'Liberation Sans',Arial,sans-serif">Vd (V)</text>
<line x1="760.5" y1="369.5" x2="1876" y2="369.5" stroke="#e2e2e2" stroke-width="1"/>
<text x="759" y="373.8" text-anchor="end" font-size="12" fill="#4a4a4a" font-family="'Liberation Sans',Arial,sans-serif">202.0</text>
<line x1="760.5" y1="396.5" x2="1876" y2="396.5" stroke="#e2e2e2" stroke-width="1"/>
<text x="759" y="400.3" text-anchor="end" font-size="12" fill="#4a4a4a" font-family="'Liberation Sans',Arial,sans-serif">101.3</text>
<line x1="760.5" y1="422.5" x2="1876" y2="422.5" stroke="#e2e2e2" stroke-width="1"/>
<text x="759" y="426.8" text-anchor="end" font-size="12" fill="#4a4a4a" font-family="'Liberation Sans',Arial,sans-serif">0.5</text>
<line x1="760.5" y1="448.5" x2="1876" y2="448.5" stroke="#e2e2e2" stroke-width="1"/>
<text x="759" y="453.3" text-anchor="end" font-size="12" fill="#4a4a4a" font-family="'Liberation Sans',Arial,sans-serif">-100.2</text>
<line x1="760.5" y1="475" x2="1876" y2="475" stroke="#e0e0e0" stroke-width="2"/>
<text x="759" y="479.8" text-anchor="end" font-size="12" fill="#4a4a4a" font-family="'Liberation Sans',Arial,sans-serif">-201.0</text>
<line x1="764.5" y1="369" x2="764.5" y2="479" stroke="#d8d8d8" stroke-width="1"/>
<text x="764.5" y="493" text-anchor="middle" font-size="12" fill="#4a4a4a" font-family="'Liberation Sans',Arial,sans-serif">0.0</text>
<line x1="1042.5" y1="369" x2="1042.5" y2="479" stroke="#e2e2e2" stroke-width="1"/>
<text x="1042.4" y="493" text-anchor="middle" font-size="12" fill="#4a4a4a" font-family="'Liberation Sans',Arial,sans-serif">1.5</text>
<line x1="1320.5" y1="369" x2="1320.5" y2="479" stroke="#e2e2e2" stroke-width="1"/>
<text x="1320.2" y="493" text-anchor="middle" font-size="12" fill="#4a4a4a" font-family="'Liberation Sans',Arial,sans-serif">3.0</text>
<line x1="1598.5" y1="369" x2="1598.5" y2="479" stroke="#e2e2e2" stroke-width="1"/>
<text x="1598.1" y="493" text-anchor="middle" font-size="12" fill="#4a4a4a" font-family="'Liberation Sans',Arial,sans-serif">4.5</text>
<line x1="1875.5" y1="369" x2="1875.5" y2="479" stroke="#e2e2e2" stroke-width="1"/>
<text x="1876" y="493" text-anchor="middle" font-size="12" fill="#4a4a4a" font-family="'Liberation Sans',Arial,sans-serif">6.0</text>
<polyline points="765.5,466 767,455 769,450 771,452 774,462 776.5,465 778,440 780,432" fill="none" stroke="#209fdf" stroke-width="2.2" stroke-linejoin="round" stroke-linecap="round" />
<polyline points="765.5,380 767,375 769,376 770.5,395 772,425 774,430" fill="none" stroke="#99ca53" stroke-width="2.4" stroke-linejoin="round" stroke-linecap="round" />
<polyline points="766,395 767.5,380 769.5,392 771,440 773,467 775.5,467 777.5,430 779,415" fill="none" stroke="#f6a625" stroke-width="2.4" stroke-linejoin="round" stroke-linecap="round" />
<polyline points="778,433 1125,470.4" fill="none" stroke="#209fdf" stroke-width="1.0" stroke-linejoin="round" stroke-linecap="round" stroke-opacity="0.45"/>
<polygon points="778,412 1125,375 1876,375 1876,470 1125,470 778,432" fill="#f6a625"/>
<polyline points="764.5,374 765.5,414 767,414 769,393 770.5,421 775.5,422 781.5,407 787,418.5 791.5,409 796,414 800,411 800,410.3 802.5,411.3 805,410.9 807.5,409.7 810,409.8 812.5,409.4 815,409.5 817.5,409.5 820,407.9 822.5,407.5 825,408.7 827.5,407.6 830,407.9 832.5,406.3 835,406.8 837.5,407 840,405.8 842.5,406.8 845,406.4 847.5,404.6 850,404.3 852.5,404.9 855,405.3 857.5,404 860,403.4 862.5,403.5 865,402.5 867.5,402.6 870,402.7 872.5,402.5 875,401.7 877.5,401.4 880,401.1 882.5,401.2 885,400.6 887.5,399.8 890,400.9 892.5,400.1 895,399.9 897.5,398.8 900,399.9 902.5,399.4 905,397.7 907.5,397.8 910,398.2 912.5,397.8 915,397.9 917.5,396.7 920,397.1 922.5,396.5 925,395.5 927.5,395.7 930,395.9 932.5,395.5 935,394.6 937.5,394.4 940,393.1 942.5,393.2 945,393.8 947.5,392.8 950,392.1 952.5,392.4 955,392.4 957.5,392 960,391.2 962.5,391 965,390.8 967.5,390.9 970,390.2 972.5,389.6 975,389.5 977.5,388.3 980,388 982.5,388.9 985,389.1 987.5,388.1 990,387.4 992.5,386.7 995,386.9 997.5,387.5 1000,386.8 1002.5,386.1 1005,386.3 1007.5,384.9 1010,385.1 1012.5,385.6 1015,384.6 1017.5,384.1 1020,383.5 1022.5,383.7 1025,384.1 1027.5,382.1 1030,383.2 1032.5,383 1035,382.8 1037.5,382.2 1040,382.1 1042.5,381.2 1045,381 1047.5,380.5 1050,379.5 1052.5,380.7 1055,379.8 1057.5,378.9 1060,379.1 1062.5,378.8 1065,378.2 1067.5,377.9 1070,378 1072.5,377.8 1075,377.5 1077.5,376.9 1080,375.9 1082.5,375.9 1085,375.5 1087.5,376 1090,376.1 1092.5,375.7 1095,375.4 1097.5,375.2 1100,373.9 1102.5,374.6 1105,374 1107.5,372.6 1110,372.2 1112.5,371.9 1115,372.5 1115,372.5 1115.7,372.1 1116.8,371.6 1117.9,371.2 1119,371 1120,371.4 1121.1,372.1 1122.1,372.8 1123,373 1123.8,372.3 1124.5,371.1 1125.2,370.1 1126,370 1126.9,371.7 1127.8,374.6 1128.7,377.3 1129.5,378.5 1130.2,377.4 1130.7,374.9 1131.3,372.2 1132,370.5 1132.9,370.4 1133.9,371.1 1135,372 1136,372.5 1136.9,372.4 1137.6,372.1 1138.6,371.8 1140,371.5 1142.3,371.4 1145.2,371.4 1148.1,371.5 1150,371.5 1150,371.3 1153.2,371.1 1156.4,371.5 1159.5,370.8 1162.7,371.2 1165.9,370.9 1169.1,370.5 1172.3,370.9 1175.5,370.3 1178.6,370.6 1181.8,370.2 1185,370.1 1188,370.4 1191,370.8 1194,370.1 1197,370.2 1200,370.6 1203,370.9 1206,370.6 1209,370.4 1212,371 1215,370 1218,370.8 1221.1,370.3 1224.1,370.1 1227.1,370.1 1230.1,370.3 1233.1,370.8 1236.1,370.2 1239.1,370.6 1242.1,370.6 1245.1,370.4 1248.1,370.5 1251.1,370 1254.1,370 1257.1,370.2 1260.1,370.7 1263.1,370.4 1266.1,370.3 1269.1,370.6 1272.1,370.4 1275.1,370.3 1278.1,370.8 1281.1,370.7 1284.1,370.2 1287.1,370.5 1290.2,370.5 1293.2,370.8 1296.2,370.7 1299.2,370.3 1302.2,370.9 1305.2,370.1 1308.2,370.4 1311.2,370.7 1314.2,370.1 1317.2,370.5 1320.2,370 1323.2,370.6 1326.2,370.7 1329.2,370.5 1332.2,370.8 1335.2,370.3 1338.2,370.7 1341.2,370.5 1344.2,370.5 1347.2,370.4 1350.2,370.8 1353.2,370.9 1356.2,370.4 1359.3,370.6 1362.3,370 1365.3,370.6 1368.3,370.6 1371.3,370.9 1374.3,370.8 1377.3,370.2 1380.3,370.3 1383.3,370.6 1386.3,370 1389.3,370.4 1392.3,370.1 1395.3,370.1 1398.3,370 1401.3,370.7 1404.3,370.1 1407.3,370.2 1410.3,370.3 1413.3,370.8 1416.3,370 1419.3,370.4 1422.3,370.5 1425.3,370.8 1428.4,370.7 1431.4,370.8 1434.4,370.2 1437.4,370.3 1440.4,370.3 1443.4,370.8 1446.4,370.9 1449.4,370.1 1452.4,370.1 1455.4,370.2 1458.4,370.2 1461.4,370.4 1464.4,370.5 1467.4,370.2 1470.4,369.9 1473.4,370.3 1476.4,370.3 1479.4,370.5 1482.4,370.9 1485.4,370.6 1488.4,370.4 1491.4,370.5 1494.4,370.6 1497.5,370 1500.5,370.8 1503.5,370.7 1506.5,370.8 1509.5,370.7 1512.5,370.3 1515.5,370.3 1518.5,370 1521.5,370.5 1524.5,370 1527.5,370 1530.5,370.1 1533.5,370.1 1536.5,370.2 1539.5,369.9 1542.5,369.9 1545.5,370 1548.5,370 1551.5,370.3 1554.5,369.9 1557.5,370.8 1560.5,370.5 1563.5,370 1566.6,370.1 1569.6,370.2 1572.6,370.3 1575.6,370 1578.6,370.7 1581.6,370.9 1584.6,370.4 1587.6,370.4 1590.6,370 1593.6,370 1596.6,370.2 1599.6,370.1 1602.6,370.7 1605.6,370 1608.6,369.9 1611.6,370.8 1614.6,370.4 1617.6,370 1620.6,370.4 1623.6,369.9 1626.6,370.4 1629.6,370.8 1632.6,370.7 1635.7,370.6 1638.7,370.1 1641.7,370.2 1644.7,370 1647.7,370.6 1650.7,370.4 1653.7,370.6 1656.7,370.2 1659.7,370.1 1662.7,370.7 1665.7,370.8 1668.7,370.7 1671.7,370.7 1674.7,370.7 1677.7,370.6 1680.7,370.1 1683.7,370.4 1686.7,370.2 1689.7,369.9 1692.7,369.9 1695.7,370.1 1698.7,370.1 1701.7,370.5 1704.8,370.8 1707.8,370.3 1710.8,370.8 1713.8,370.8 1716.8,370.8 1719.8,370.2 1722.8,370.1 1725.8,370.1 1728.8,370 1731.8,370 1734.8,370.5 1737.8,370.7 1740.8,370.7 1743.8,370.3 1746.8,370.5 1749.8,370.6 1752.8,369.9 1755.8,370.5 1758.8,370.7 1761.8,370.6 1764.8,370.6 1767.8,370.3 1770.8,370 1773.9,370.6 1776.9,370.2 1779.9,370.6 1782.9,370.8 1785.9,370.2 1788.9,370.2 1791.9,370.8 1794.9,370.5 1797.9,370 1800.9,369.9 1803.9,370 1806.9,370.7 1809.9,370.6 1812.9,370 1815.9,370.6 1818.9,370.8 1821.9,370.5 1824.9,370.2 1827.9,370.4 1830.9,369.9 1833.9,369.8 1836.9,370.8 1839.9,370.5 1843,370.3 1846,370.7 1849,370.2 1852,370.7 1855,370.6 1858,370 1861,370.1 1864,370.1 1867,370 1870,370.4 1873,370.1 1876,370.3" fill="none" stroke="#0000ff" stroke-width="3.2" stroke-linejoin="round" stroke-linecap="round" />
<polyline points="764.5,391 765,474.5 769.5,474.5 770.5,460 773,369.5 776,369.5 777.8,437 781.7,420 786.2,430.7 790.6,420.7 795,429.6 799.5,423.5 803.4,428 807.3,424 812,427 818,425 818,426.2 820.5,426.2 823,424.8 825.5,424.9 828,426.1 830.5,425.9 833,425.8 835.5,425.3 838,425.8 840.5,425.8 843,425.8 845.5,425.1 848.1,425.5 850.6,425.5 853.1,426 855.6,426.5 858.1,426.4 860.6,425.8 863.1,425.6 865.6,425.4 868.1,425 870.6,425 873.1,425.7 875.6,425.5 878.1,425.6 880.6,426.4 883.1,425.9 885.6,425.9 888.1,425.4 890.6,425.1 893.1,425.6 895.6,425.3 898.1,425.9 900.6,426.7 903.1,426.2 905.6,425.4 908.2,426.6 910.7,426.4 913.2,426.4 915.7,426.6 918.2,426.4 920.7,426.5 923.2,425.8 925.7,426.8 928.2,426.8 930.7,425.5 933.2,426.5 935.7,426.4 938.2,426 940.7,426.2 943.2,426.1 945.7,426.8 948.2,426.2 950.7,426.7 953.2,425.9 955.7,426.8 958.2,426.8 960.7,426.2 963.2,426.3 965.7,426.9 968.3,426.6 970.8,426.2 973.3,425.8 975.8,426 978.3,426.6 980.8,425.8 983.3,427 985.8,426 988.3,427 990.8,426.1 993.3,427.1 995.8,426.7 998.3,426.4 1000.8,426.4 1003.3,426.7 1005.8,426.6 1008.3,426.2 1010.8,426 1013.3,426.5 1015.8,427.2 1018.3,426.7 1020.8,425.8 1023.3,427 1025.8,426.9 1028.4,427.2 1030.9,426.1 1033.4,427 1035.9,425.9 1038.4,426.9 1040.9,426.3 1043.4,426.2 1045.9,427.2 1048.4,426 1050.9,426.7 1053.4,427.3 1055.9,426.3 1058.4,426.2 1060.9,427.3 1063.4,426.6 1065.9,427.1 1068.4,426 1070.9,426.6 1073.4,426.3 1075.9,427.1 1078.4,426.1 1080.9,427.6 1083.4,426.1 1085.9,427.2 1088.5,426.1 1091,426.5 1093.5,427.4 1096,426.4 1098.5,426.4 1101,427.2 1103.5,426.8 1106,426.2 1108.5,427.7 1111,426.4 1113.5,426.2 1116,427 1116,427 1116.7,426.6 1117.4,426.5 1118.1,427 1118.8,428 1119.5,429.2 1120.2,430.2 1120.9,430.5 1121.6,429.9 1122.3,428.2 1123,425.9 1123.7,423.4 1124.4,421.6 1125.1,421.1 1125.8,422.2 1126.5,424.9 1127.2,428.6 1127.9,432.5 1128.6,435.5 1129.3,436.7 1130,435.7 1130.7,432.4 1131.4,427.7 1132.1,422.5 1132.8,418.3 1133.5,416.2 1134.2,416.9 1134.9,420.4 1135.6,426 1136.3,432.4 1137,437.9 1137.7,441.2 1138.4,441.2 1139.1,438 1139.8,432.1 1140.5,424.9 1141.2,418.4 1141.9,414 1142.6,413 1143.3,415.8 1144,421.7 1144.7,429.3 1145.4,436.9 1146.1,442.4 1146.8,444.5 1147.5,442.6 1148.2,437.2 1148.9,429.6 1149.6,421.6 1150.3,415.3 1151,412.2 1151.7,413.1 1152.4,417.9 1153.1,425.2 1153.8,433.1 1154.5,439.8 1155.2,443.6 1155.9,443.8 1156.6,440.3 1157.3,434 1158,426.7 1158.7,420 1159.4,415.6 1160.1,414.5 1160.8,416.9 1161.5,422.2 1162.2,429 1162.9,435.6 1163.6,440.5 1164.3,442.5 1165,441.2 1165.7,437 1166.4,431 1167.1,424.7 1167.8,419.6 1168.5,417 1169.2,417.4 1169.9,420.7 1170.6,425.9 1171.3,431.9 1172,437 1172.7,440.2 1173.4,440.7 1174.1,438.4 1174.8,434.1 1175.5,428.7 1176.2,423.7 1176.9,420.3 1177.6,419.2 1178.3,420.6 1179,424.2 1179.7,429 1180.4,433.8 1181.1,437.5 1181.8,439.2 1182.5,438.6 1183.2,435.9 1183.9,431.8 1184.6,427.4 1185.3,423.7 1186,421.7 1186.7,421.7 1187.4,423.8 1188.1,427.2 1188.8,431.2 1189.5,434.8 1190.2,437.2 1190.9,437.7 1191.6,436.4 1192.3,433.7 1193,430.3 1193.7,427 1194.4,424.6 1195.1,423.7 1195.8,424.4 1196.5,426.6 1197.2,429.6 1197.9,432.6 1198.6,435 1199.3,436.2 1200,436 1200.7,434.5 1201.4,432.1 1202.1,429.5 1202.8,427.3 1203.5,426 1204.2,425.9 1204.9,427 1205.6,428.9 1206.3,431.1 1207,433.2 1207.7,434.6 1208.4,435 1209.1,434.4 1209.8,433 1210.5,431.3 1211.2,429.6 1211.9,428.3 1212.6,427.9 1213.3,428.2 1214,429.2 1214.7,430.6 1215.4,432 1216.1,433.1 1216.8,433.7 1217.5,433.6 1218.2,433 1218.9,432.1 1219.6,431.1 1220.3,430.3 1221,429.8 1221.7,429.8 1222.4,430.2 1223.1,430.8 1223.8,431.6 1224.5,432.2 1225.2,432.6 1225.9,432.7 1226.6,432.5 1227.3,432.2 1228,431.8 1228.7,431.6 1229.4,431.4 1230.1,431.4 1230.8,431.5 1231.5,431.7 1232.2,431.9 1232.9,432 1233.6,432 1234,431.7 1237,432.6 1240,431.6 1243,432.2 1246,431.5 1249,431.7 1252,432.6 1255,431.7 1258,432.2 1261,432 1264,431.9 1267,432 1270,431.6 1273,432.4 1276,431.5 1279,431.7 1282,431.4 1285,431.7 1288,431.9 1291,432.5 1294,431.9 1297,431.5 1300,431.7 1303,432.6 1306,431.5 1309,432.1 1312,431.9 1315,432.2 1318,431.8 1321,432.2 1324,432 1327,432.2 1330,432.5 1333,432.1 1336,431.6 1339,431.5 1342,432.5 1345,432 1348,431.6 1351,432.5 1354,432.1 1357,432.3 1360,432.5 1363,431.7 1366,431.8 1369,432.5 1372,431.6 1375,432.3 1378,431.5 1381,432.2 1384,432.2 1387,432.5 1390,432.4 1393,432 1396,431.6 1399,431.6 1402,432 1405,432 1408,431.5 1411,432.5 1414,432 1417,432.2 1420,431.7 1423,431.7 1426,431.4 1429,431.8 1432,431.7 1435,431.9 1438,431.9 1441,432.4 1444,432.5 1447,431.6 1450,431.9 1453,431.6 1456,432.2 1459,432.6 1462,431.6 1465,432.3 1468,431.8 1471,431.4 1474,432.3 1477,431.8 1480,431.6 1483,431.9 1486,431.7 1489,431.9 1492,431.9 1495,431.9 1498,432.1 1501,431.7 1504,431.5 1507,431.5 1510,431.5 1513,432 1516,431.8 1519,432.4 1522,432 1525,432.2 1528,432.6 1531,431.5 1534,431.4 1537,431.6 1540,431.9 1543,432.1 1546,432.3 1549,431.8 1552,432.6 1555,431.4 1558,432.4 1561,431.7 1564,432.5 1567,431.4 1570,432.6 1573,432.3 1576,432.6 1579,432.1 1582,431.6 1585,432.6 1588,431.9 1591,431.5 1594,432.1 1597,432 1600,432 1603,431.6 1606,431.5 1609,432.1 1612,431.9 1615,431.6 1618,431.9 1621,432.3 1624,432.3 1627,432 1630,431.9 1633,431.8 1636,431.7 1639,431.6 1642,431.9 1645,431.5 1648,432.3 1651,432.2 1654,432.1 1657,431.4 1660,431.8 1663,431.9 1666,431.5 1669,432.6 1672,432.3 1675,432 1678,432.2 1681,431.6 1684,431.7 1687,432 1690,432.3 1693,432.2 1696,431.4 1699,432.1 1702,432.5 1705,432.3 1708,432.5 1711,432.6 1714,431.7 1717,431.8 1720,432.1 1723,432.6 1726,431.8 1729,432.5 1732,432.4 1735,432 1738,432.2 1741,432.5 1744,432.3 1747,431.8 1750,432.4 1753,431.6 1756,431.8 1759,432.6 1762,432.4 1765,431.8 1768,431.7 1771,432.1 1774,432.4 1777,432.2 1780,432.5 1783,432.3 1786,432.4 1789,432.1 1792,431.8 1795,431.9 1798,432 1801,432 1804,432.4 1807,431.7 1810,431.5 1813,432.3 1816,431.7 1819,431.9 1822,431.5 1825,432.4 1828,431.7 1831,431.7 1834,432.4 1837,432 1840,431.7 1843,432.5 1846,431.9 1849,431.8 1852,432.6 1855,432.3 1858,432.3 1861,431.7 1864,432.4 1867,432.1 1870,432.4 1873,431.8 1876,432" fill="none" stroke="#ff0000" stroke-width="3.4" stroke-linejoin="round" stroke-linecap="round" />
</svg>
<div class="abs" style="left:694px;top:519px;width:1219px;height:8px;background:linear-gradient(#efefef,#e2e2e2)"></div>
<div class="abs" style="left:694px;top:527px;width:1219px;height:1px;background:#f6f6f6"></div>
<div class="win" style="left:694px;top:528px;width:1219px;height:546px">
<div class="tb" style="height:27px"></div>
<div class="tt" style="top:6px">Controller Currents</div>
<div class="card" style="left:9px;top:36px;width:1202px;height:501px"></div>
<div class="wl"></div>
</div>
<div class="abs" style="left:1834px;top:540px;width:6px;height:2px;background:#a9a9a9"></div>
<svg class="abs" style="left:1864px;top:538px" width="7" height="7" viewBox="0 0 7 7"><path d="M1.6 0H6V4.4Z M0 1.6V6H4.4Z" fill="#a9a9a9"/></svg>
<svg class="abs" style="left:1889px;top:533px" width="16" height="16" viewBox="0 0 16 16"><circle cx="8" cy="8" r="7" fill="#b4b4b4"/><path d="M5.2 5.2L10.8 10.8M10.8 5.2L5.2 10.8" stroke="#fff" stroke-width="1.6"/></svg>
<svg class="abs" style="left:703px;top:564px" width="1202" height="501" viewBox="703 564 1202 501">
<rect x="1149.5" y="601.5" width="8" height="8" fill="#0000ff" stroke="#111" stroke-width="1"/>
<text x="1163" y="610" font-size="12" fill="#555" font-family="'Liberation Sans',Arial,sans-serif">Iq (A)</text>
<rect x="1201.0" y="601.5" width="8" height="8" fill="#ff0000" stroke="#111" stroke-width="1"/>
<text x="1214" y="610" font-size="12" fill="#555" font-family="'Liberation Sans',Arial,sans-serif">Id (A)</text>
<rect x="1252.5" y="601.5" width="8" height="8" fill="#f6a625" stroke="#111" stroke-width="1"/>
<text x="1265.5" y="610" font-size="12" fill="#555" font-family="'Liberation Sans',Arial,sans-serif">Ifw (A)</text>
<rect x="1310.0" y="601.5" width="8" height="8" fill="#6d5fd5" stroke="#111" stroke-width="1"/>
<text x="1323" y="610" font-size="12" fill="#555" font-family="'Liberation Sans',Arial,sans-serif">Throttle Reduction (%)</text>
<line x1="761" y1="635.5" x2="1876" y2="635.5" stroke="#e2e2e2" stroke-width="1"/>
<text x="759" y="639.8" text-anchor="end" font-size="12" fill="#4a4a4a" font-family="'Liberation Sans',Arial,sans-serif">327.3</text>
<line x1="761" y1="732.5" x2="1876" y2="732.5" stroke="#e2e2e2" stroke-width="1"/>
<text x="759" y="736.5" text-anchor="end" font-size="12" fill="#4a4a4a" font-family="'Liberation Sans',Arial,sans-serif">112.6</text>
<line x1="761" y1="828.5" x2="1876" y2="828.5" stroke="#e2e2e2" stroke-width="1"/>
<text x="759" y="833.1" text-anchor="end" font-size="12" fill="#4a4a4a" font-family="'Liberation Sans',Arial,sans-serif">-102.0</text>
<line x1="761" y1="925.5" x2="1876" y2="925.5" stroke="#e2e2e2" stroke-width="1"/>
<text x="759" y="929.8" text-anchor="end" font-size="12" fill="#4a4a4a" font-family="'Liberation Sans',Arial,sans-serif">-316.7</text>
<line x1="761" y1="1022" x2="1876" y2="1022" stroke="#e0e0e0" stroke-width="2"/>
<text x="759" y="1026.5" text-anchor="end" font-size="12" fill="#4a4a4a" font-family="'Liberation Sans',Arial,sans-serif">-531.3</text>
<line x1="765.5" y1="635" x2="765.5" y2="1025.7" stroke="#d8d8d8" stroke-width="1"/>
<text x="765" y="1040" text-anchor="middle" font-size="12" fill="#4a4a4a" font-family="'Liberation Sans',Arial,sans-serif">0.0</text>
<line x1="1042.5" y1="635" x2="1042.5" y2="1025.7" stroke="#e2e2e2" stroke-width="1"/>
<text x="1042.8" y="1040" text-anchor="middle" font-size="12" fill="#4a4a4a" font-family="'Liberation Sans',Arial,sans-serif">1.5</text>
<line x1="1320.5" y1="635" x2="1320.5" y2="1025.7" stroke="#e2e2e2" stroke-width="1"/>
<text x="1320.5" y="1040" text-anchor="middle" font-size="12" fill="#4a4a4a" font-family="'Liberation Sans',Arial,sans-serif">3.0</text>
<line x1="1598.5" y1="635" x2="1598.5" y2="1025.7" stroke="#e2e2e2" stroke-width="1"/>
<text x="1598.2" y="1040" text-anchor="middle" font-size="12" fill="#4a4a4a" font-family="'Liberation Sans',Arial,sans-serif">4.5</text>
<line x1="1875.5" y1="635" x2="1875.5" y2="1025.7" stroke="#e2e2e2" stroke-width="1"/>
<text x="1876" y="1040" text-anchor="middle" font-size="12" fill="#4a4a4a" font-family="'Liberation Sans',Arial,sans-serif">6.0</text>
<polyline points="765.5,851 770,851 771.5,845 772.5,845 773,826 775,826 775.2,840 777,840 777.2,782.5 1109,782.5 1110,784.6 1115.5,784.6 1115.5,785.6 1117.6,785.6 1117.6,788.2 1121.8,788.2 1121.8,783 1124.4,783 1124.4,792.4 1126.5,792.4 1126.5,795.5 1130.2,795.5 1130.2,783 1133.8,783 1133.8,795.5 1134.4,797.6 1138.5,797.6 1139.6,791.4 1142.7,791.4 1142.7,801.8 1147,801.8 1147.4,795 1152.1,795 1152.1,805 1156.8,805 1156.8,801.3 1161.5,801.3 1161.5,809 1165.7,809 1165.7,802.9 1169.4,802.9 1169.4,812.3 1174.6,812.3 1174.6,809 1178.3,809 1178.3,817.5 1184,817.5 1184,814.9 1187.2,814.9 1187.2,820.6 1195,820.6 1195,825.3 1199.2,825.3 1200.2,822.7 1204.4,822.7 1204.4,826 1246.2,850.4 1876,850.4" fill="none" stroke="#f6a625" stroke-width="2.2" stroke-linejoin="round" stroke-linecap="round" stroke-linejoin="miter"/>
<polyline points="765,774 767,850 769,957 770,930 771,935 772.3,1021 773.5,1000 776,860" fill="none" stroke="#ff0000" stroke-width="2.8" stroke-linejoin="round" stroke-linecap="round" />
<polyline points="776,860 780,875.2 784,860.2 786.5,865.6 789,871.5 791.5,866.9 794,861.8 796.5,866.3 799,870.2 801.5,867.6 804,865.1 807,867.2 810,868.6 810,868 812.5,868.2 815,868.7 817.5,868.2 820,869 822.5,867.4 825,867.9 827.5,868.9 830,868 832.5,868.4 835,868.8 837.5,868 840,869.5 842.5,868.5 845,868.3 847.5,868.4 850,869.2 852.5,868.7 855,868.5 857.5,868.5 860,868.6 862.5,867.9 865,868.6 867.5,868.8 870,867.7 872.5,867.4 875,869.4 877.5,868.4 880,868.8 882.5,869.2 885,868.8 887.5,869.1 890,867.9 892.5,869.2 895,868.9 897.5,869.7 900,869.3 902.5,867.7 905,867.8 907.5,868.2 910,869.4 912.5,868 915,868.4 917.5,868 920,868.5 922.5,868.6 925,868.3 927.5,868.2 930,869 932.5,869.1 935,868.8 937.5,868.9 940,869 942.5,869.2 945,869 947.5,867.6 950,869.1 952.5,868.9 955,869.3 957.5,868.1 960,868.6 962.5,867.9 965,869.2 967.5,868.2 970,868.1 972.5,867.5 975,868.8 977.5,869.3 980,868.3 982.5,869 985,868.8 987.5,867.6 990,868.6 992.5,868.8 995,868.8 997.5,868 1000,869.1 1002.5,867.3 1005,868.6 1007.5,868.5 1010,869 1012.5,869 1015,868 1017.5,868.8 1020,868.3 1022.5,868.3 1025,869.2 1027.5,867.8 1030,867.5 1032.5,868.2 1035,869 1037.5,868.3 1040,867.9 1042.5,868.8 1045,868.2 1047.5,869.2 1050,869.3 1052.5,868.1 1055,868.9 1057.5,868.9 1060,868.4 1062.5,868.4 1065,869 1067.5,868.5 1070,869.6 1072.5,868.5 1075,868.6 1077.5,869.1 1080,867.8 1082.5,868 1085,869 1087.5,868.7 1090,868.8 1092.5,867.4 1095,868.8 1097.5,868.5 1100,868.2 1100,868.4 1102.9,869.4 1106.9,869.7 1110,870.6 1111.3,872.3 1111.8,873.9 1112.5,874.3 1113.7,871.9 1115.1,869.1 1116.5,868.4 1118,872.2 1119.5,878 1121,880.4 1122.5,875.3 1124,867.1 1125.5,863.6 1126.9,871.8 1128.2,886.4 1129.5,893.1 1130.9,882.1 1132.3,863.9 1133.7,855.4 1135.2,868.7 1136.8,892.4 1138.3,904.9 1139.8,893.2 1141.2,871.6 1142.7,859.8 1144.1,872.5 1145.5,894.5 1147,906.5 1148.5,895.4 1150.1,873.7 1151.6,863 1153.1,875.6 1154.5,897.7 1156,910.4 1157.5,901.1 1159.1,881.9 1160.6,871.8 1162.1,881.1 1163.5,899.5 1165,910.2 1166.5,902.2 1167.9,885.9 1169.4,877.2 1170.8,887 1172.2,903.8 1173.6,913.5 1175.1,907 1176.5,892.7 1178,884.7 1179.5,892.9 1180.9,906.9 1182.4,915.1 1183.9,909.6 1185.5,898.7 1187,891.5 1188.5,898.2 1189.9,909.8 1191.3,916.7 1192.7,913.1 1194.1,904.4 1195.5,900.4 1197,904.6 1198.5,913.3 1200,917.7 1201.4,914.4 1202.7,907.4 1204,904.3 1205.3,909.1 1206.7,918.4 1208,924.4 1209.3,921.8 1210.7,915.1 1212,912 1213.3,915.5 1214.7,921.1 1216,925.2 1217.2,923.9 1218.4,920.8 1219.7,918.6 1221.4,920.8 1223.3,924.2 1225,927.2 1226.5,926.7 1227.8,925.5 1229,924.9 1229.9,926 1230.7,927.9 1232,929.7 1234.3,931.2 1237.2,931.9 1240,932.5 1242.7,934.3 1245.2,934.7 1247,935.9 1247,935.2 1249.5,934.8 1252,935.7 1254.5,935.3 1257,934.6 1259.5,935 1262,936.3 1264.5,936.3 1267,936 1269.6,935.3 1272.1,935.5 1274.6,935.3 1277.1,934.7 1279.6,934.8 1282.1,934.9 1284.6,936.1 1287.1,935.9 1289.6,936.3 1292.1,935.7 1294.6,934.7 1297.1,935 1299.6,936.2 1302.1,935.9 1304.6,935.6 1307.1,936.5 1309.6,935.2 1312.2,936 1314.7,935.6 1317.2,935.8 1319.7,934.8 1322.2,935.1 1324.7,935.2 1327.2,936.5 1329.7,935.8 1332.2,936 1334.7,934.7 1337.2,936 1339.7,935.1 1342.2,935.8 1344.7,935.7 1347.2,935.7 1349.7,935.2 1352.3,935.4 1354.8,935.1 1357.3,934.8 1359.8,935.6 1362.3,936.1 1364.8,934.4 1367.3,935 1369.8,935.8 1372.3,935.1 1374.8,935.6 1377.3,935.6 1379.8,935.6 1382.3,936.3 1384.8,935.2 1387.3,935.4 1389.8,935.2 1392.3,935.6 1394.9,935.1 1397.4,935.3 1399.9,936.1 1402.4,935 1404.9,936 1407.4,936.2 1409.9,935.2 1412.4,935 1414.9,935.5 1417.4,936.1 1419.9,935.6 1422.4,935 1424.9,935.4 1427.4,935.3 1429.9,935.8 1432.4,934.4 1434.9,935.4 1437.5,935.8 1440,935.8 1442.5,935.5 1445,935.8 1447.5,934.5 1450,934.8 1452.5,936.5 1455,936.1 1457.5,935.9 1460,936.7 1462.5,936 1465,936.5 1467.5,934.7 1470,934.8 1472.5,935.9 1475,934.9 1477.5,935.1 1480.1,936.5 1482.6,935.2 1485.1,934.8 1487.6,934.6 1490.1,934.8 1492.6,935.6 1495.1,935.4 1497.6,935.7 1500.1,935.4 1502.6,936.6 1505.1,935.9 1507.6,934.9 1510.1,934.6 1512.6,935.3 1515.1,935.1 1517.6,936 1520.2,934.5 1522.7,934.5 1525.2,935.5 1527.7,935.4 1530.2,936.7 1532.7,935.2 1535.2,935.4 1537.7,935.9 1540.2,935.8 1542.7,936.8 1545.2,935.5 1547.7,934.8 1550.2,935.5 1552.7,934.8 1555.2,935.3 1557.7,934.9 1560.2,936.1 1562.8,936.2 1565.3,935.2 1567.8,934.8 1570.3,935.6 1572.8,935.4 1575.3,934.8 1577.8,935 1580.3,935.7 1582.8,935.2 1585.3,935 1587.8,935.9 1590.3,935.7 1592.8,936.4 1595.3,935.5 1597.8,936.1 1600.3,935.6 1602.8,935.9 1605.4,936.4 1607.9,935.4 1610.4,934.9 1612.9,935.1 1615.4,935.8 1617.9,936.1 1620.4,935.9 1622.9,935.1 1625.4,935.7 1627.9,935.9 1630.4,936.2 1632.9,935.9 1635.4,935.4 1637.9,936 1640.4,935.8 1642.9,935.2 1645.5,936.4 1648,935.9 1650.5,935.1 1653,935.9 1655.5,936.1 1658,936.1 1660.5,935.3 1663,936.4 1665.5,934.6 1668,936.3 1670.5,935.6 1673,935.2 1675.5,934.8 1678,935.5 1680.5,935.8 1683,936.1 1685.5,936.3 1688.1,935.1 1690.6,935.2 1693.1,936.2 1695.6,935.2 1698.1,936.1 1700.6,934.9 1703.1,935.9 1705.6,936.2 1708.1,936.4 1710.6,935.4 1713.1,936.2 1715.6,935.3 1718.1,935.9 1720.6,935.5 1723.1,936.3 1725.6,936.2 1728.1,935.4 1730.7,935.4 1733.2,934.3 1735.7,935.2 1738.2,936 1740.7,935.5 1743.2,936.6 1745.7,936.2 1748.2,934.7 1750.7,935.7 1753.2,935.9 1755.7,935.4 1758.2,934.6 1760.7,936 1763.2,935.7 1765.7,934.5 1768.2,935.3 1770.7,935.2 1773.3,935.7 1775.8,934.9 1778.3,935.5 1780.8,935.4 1783.3,936.3 1785.8,935 1788.3,935.4 1790.8,935.4 1793.3,935.9 1795.8,936 1798.3,935.9 1800.8,936.6 1803.3,936.1 1805.8,934.8 1808.3,935.9 1810.8,935.5 1813.4,935.5 1815.9,936.2 1818.4,935.8 1820.9,935.8 1823.4,935.1 1825.9,936.6 1828.4,934.7 1830.9,935.1 1833.4,935.3 1835.9,935.7 1838.4,936 1840.9,936.4 1843.4,935.9 1845.9,934.3 1848.4,935.3 1850.9,935.5 1853.4,935.5 1856,935.5 1858.5,936 1861,934.9 1863.5,935.3 1866,936.5 1868.5,935.8 1871,936.1 1873.5,936.4 1876,935.6" fill="none" stroke="#ff0000" stroke-width="4.3" stroke-linejoin="round" stroke-linecap="round" />
<polyline points="765,774 767,710 770,635 772,660 775,652" fill="none" stroke="#0000ff" stroke-width="3.0" stroke-linejoin="round" stroke-linecap="round" />
<polyline points="775,651.9 779,688.1 781.5,678.6 784,668 788,683 792,672.1 794.5,675.6 797,680 799.5,677.7 802,675.4 805,676.4 808,678.7 808,677.7 810.5,678.9 813,678.9 815.5,678.3 818,679.2 820.5,679.5 823,677.3 825.6,678.1 828.1,678.4 830.6,677.6 833.1,678.9 835.6,676.6 838.1,677.5 840.6,677.2 843.1,677.5 845.6,678.1 848.1,677 850.6,678 853.1,677.6 855.7,679.1 858.2,678.6 860.7,677.6 863.2,678.6 865.7,677 868.2,679 870.7,678 873.2,677.6 875.7,679.1 878.2,677.3 880.7,677.1 883.2,678.8 885.8,678.2 888.3,678.1 890.8,678.9 893.3,678.7 895.8,678.3 898.3,678.2 900.8,679.5 903.3,677.8 905.8,678.7 908.3,679.5 910.8,677.7 913.3,678.5 915.8,677.3 918.4,676.8 920.9,677.5 923.4,678.1 925.9,678 928.4,676.6 930.9,678.3 933.4,678.5 935.9,678.1 938.4,678.3 940.9,677.8 943.4,677.2 945.9,677.5 948.5,679 951,676.8 953.5,679.2 956,677.2 958.5,678.3 961,679.2 963.5,676.7 966,679 968.5,677.4 971,678.3 973.5,676.8 976,677 978.5,678.2 981.1,679.6 983.6,677.3 986.1,679.3 988.6,678.7 991.1,679 993.6,678.4 996.1,678.2 998.6,677.7 1001.1,679.5 1003.6,677.1 1006.1,678.4 1008.6,679.2 1011.2,678.7 1013.7,677.1 1016.2,678.6 1018.7,676.9 1021.2,678.1 1023.7,678.1 1026.2,679.3 1028.7,677.8 1031.2,679.1 1033.7,679 1036.2,677.9 1038.7,678 1041.2,678.2 1043.8,677 1046.3,677.1 1048.8,679.3 1051.3,679.8 1053.8,677.3 1056.3,677 1058.8,679.6 1061.3,679 1063.8,677.7 1066.3,678.4 1068.8,679.1 1071.3,679.1 1073.9,678.1 1076.4,677.6 1078.9,676.8 1081.4,679.8 1083.9,677.1 1086.4,678.6 1088.9,678.7 1091.4,678.1 1093.9,679 1096.4,679 1098.9,678.2 1101.4,679.3 1104,677 1106.5,677.9 1109,677.8 1111.5,679.6 1114,678.1 1116.5,678 1119,679 1119,678 1120.5,676.6 1122.8,675.2 1125.2,674 1127.3,673.4 1129,675.7 1130.6,679.7 1132.1,683.5 1133.6,684.6 1135.2,683.4 1136.8,680.8 1138.4,677.4 1140,675.3 1141.6,676.7 1143.1,679.5 1144.6,682 1146.2,683.3 1147.8,682.2 1149.3,680.9 1150.9,677.9 1152.5,676.9 1154.1,676.6 1155.7,679.7 1157.2,681.9 1158.8,683.3 1160.4,681.8 1161.9,680.6 1163.5,677.2 1165.1,676.9 1166.7,678.1 1168.3,680.5 1169.9,682.4 1171.5,683.4 1173.1,682.7 1174.7,681 1176.2,678.3 1177.8,677.9 1179.4,678.8 1180.9,680.2 1182.4,681.1 1184,682.4 1185.6,682 1187.2,680.2 1188.8,679 1190.4,677.9 1192,678.6 1193.6,679.6 1195.1,679.9 1196.7,681.2 1198.3,681.4 1200,680.4 1201.5,679.4 1203,678.6 1204.3,679.7 1205.4,680.6 1206.6,681.4 1207.7,682.6 1209,681.3 1210.4,681.6 1211.6,679.8 1212.5,680.1 1212.5,680 1214.2,679.8 1216.5,680.7 1219.2,680.7 1222.1,681.2 1225,682.1 1227.9,681.6 1231,681.8 1234.1,682.7 1237.2,684 1240,684.3 1242.6,685.5 1245.1,688 1247.5,689.3 1249.8,690.7 1252,693 1254.1,694 1256.2,696.3 1258.2,697.5 1260.1,699.8 1262,702.4 1263.9,704.8 1265.7,707.1 1267.4,708.9 1269.2,711.8 1271,714.3 1272.8,717.2 1274.6,721.1 1276.3,725.1 1278.1,728.7 1280,732.3 1281.9,736.6 1283.9,739.8 1286,743.9 1288,748.5 1290,752.2 1292,755.8 1294.1,759.8 1296.1,763.6 1298.1,766.8 1300,769.7 1301.8,773.6 1303.6,776.8 1305.3,778.9 1307,781 1308.7,783.3 1310.4,786.7 1312,787.5 1313.6,790.3 1315.3,791.7 1317,792.7 1318.8,794.7 1320.5,794.7 1322.4,795.8 1324.2,797 1326,796.8 1327.7,798.2 1329.3,797.5 1331,797.1 1332.8,796.4 1335,796.2 1337.6,794.2 1340.7,792.1 1343.9,789.5 1347,787 1349.7,784.6 1351.9,781.9 1353.7,779 1355.4,777.1 1357.4,774.3 1360,771.3 1363.4,768.8 1367.3,765.6 1371.5,761.2 1375.8,757.8 1380,754.8 1384.1,752.6 1388.3,749.8 1392.4,747.7 1396.4,745.9 1400,743.9 1403.2,743.3 1406.1,742.6 1408.8,741 1411.4,742 1414.3,741.6 1417.3,740.9 1420.3,741.7 1423.3,742.5 1426.6,743.6 1430,743.8 1433.7,745.3 1437.7,747.3 1441.8,748.8 1445.9,750.8 1450,751.9 1453.9,754.2 1457.7,755.6 1461.6,758.5 1465.6,760.7 1470,762.2 1472.4,763.1 1474.8,763.1 1477.5,764.8 1480.1,765.7 1482.8,766.3 1485.5,766.3 1488.1,767.1 1490.8,766.9 1493.4,768.1 1496,768.3 1498.4,767.7 1500.8,767.4 1503.1,767.8 1505.5,767.9 1507.8,768 1510.1,767.4 1512.5,766.4 1514.8,767.2 1517.4,765.8 1520,766.4 1522.8,765.1 1525.5,764.8 1528.4,764.9 1531.3,763.4 1534.3,762.7 1537.3,762.6 1540.4,762.2 1543.5,761.7 1546.8,760.9 1550,760.6 1552.3,759.6 1554.6,759.8 1557,758.2 1559.5,758 1562,758 1564.5,757.2 1567,757.4 1569.5,756.9 1572,756.3 1574.5,756.5 1576.9,755.7 1579.3,755.1 1582.5,754.8 1585.8,755.2 1588.5,755.2 1591.3,754.1 1593.7,755 1596,755.3 1598.2,754.8 1600.5,755.1 1602.7,754.8 1605,755.5 1607.5,755.7 1610,756.1 1612.8,755.7 1615.5,757.3 1618.4,757.1 1621.3,757.4 1624.3,758.4 1627.3,758.5 1630.4,758.9 1633.5,759.6 1636.8,759 1640,760.1 1642.3,760.1 1644.5,761 1646.8,761.1 1649.2,760.4 1651.6,760.8 1653.9,760.5 1656.4,761 1658.8,761.7 1661.2,761.9 1663.7,761.4 1666.1,761.3 1668.6,761.2 1670.9,761.8 1673.3,762.3 1675.7,761.2 1678,762 1680.3,760.9 1682.6,761.1 1684.8,761.1 1687.1,761.6 1689.3,761 1691.5,760.9 1693.8,761.1 1696,760.3 1698.3,761 1700.6,760 1702.9,760.4 1705.2,759.9 1707.6,759.7 1710,760 1712.4,759.8 1714.9,759.6 1717.3,759.6 1719.8,759.6 1722.2,759 1724.7,759 1727.2,759.5 1729.8,759.4 1732.3,759.2 1735,759.5 1737.7,759.1 1740.4,759.4 1743.2,758.5 1746.1,759.2 1749,759.2 1751.6,759.4 1754.1,758.6 1756.7,758.6 1759.2,759.4 1761.6,758.5 1763.9,759.6 1766.3,759.5 1768.6,758.4 1771,758.6 1773.3,759.3 1775.7,758.7 1778,758.5 1780.4,759.6 1782.7,759.1 1785.2,759.6 1787.8,758.8 1790.3,759.2 1792.9,759.6 1795.2,758.7 1797.6,759 1800,759.8 1800,760.5 1802.5,760.7 1805.1,759 1807.6,759.2 1810.1,759.2 1812.7,759.9 1815.2,759.9 1817.7,759.7 1820.3,759 1822.8,759.7 1825.3,758.8 1827.9,760.4 1830.4,760.3 1832.9,759.9 1835.5,759.5 1838,759.8 1840.5,759.1 1843.1,760.6 1845.6,761.3 1848.1,760.4 1850.7,760.1 1853.2,759.9 1855.7,761.4 1858.3,760 1860.8,760 1863.3,760.6 1865.9,760.8 1868.4,760.3 1870.9,759.7 1873.5,760.1 1876,760.5" fill="none" stroke="#0000ff" stroke-width="5.0" stroke-linejoin="round" stroke-linecap="round" />
</svg>
<div class="abs" style="left:693px;top:1074px;width:1220px;height:4px;background:#3a3a3a"></div>
<div class="dlg"><div class="dtb"></div><div class="dtt">OpenInverter FOC Simulator</div><div class="tool"></div></div>
<div class="gd" style="left:16px;top:325px"></div>
<div class="gd" style="left:16px;top:328px"></div>
<div class="gd" style="left:16px;top:331px"></div>
<div class="gd" style="left:16px;top:334px"></div>
<div class="gd" style="left:16px;top:337px"></div>
<div class="gd" style="left:16px;top:340px"></div>
<div class="gd" style="left:19px;top:325px"></div>
<div class="gd" style="left:19px;top:328px"></div>
<div class="gd" style="left:19px;top:331px"></div>
<div class="gd" style="left:19px;top:334px"></div>
<div class="gd" style="left:19px;top:337px"></div>
<div class="gd" style="left:19px;top:340px"></div>
<div class="abs" style="left:606px;top:310px;width:6px;height:2px;background:#8c8c8c"></div>
<svg class="abs" style="left:636px;top:308px" width="7" height="7" viewBox="0 0 7 7"><path d="M1.6 0H6V4.4Z M0 1.6V6H4.4Z" fill="#8c8c8c"/></svg>
<svg class="abs" style="left:661px;top:303px" width="16" height="16" viewBox="0 0 16 16"><circle cx="8" cy="8" r="7" fill="#92bd74"/><path d="M5.2 5.2L10.8 10.8M10.8 5.2L5.2 10.8" stroke="#fff" stroke-width="1.6"/></svg>
<div class="fr" style="left:52px;top:373px;width:170px;height:400px"></div>
<div class="fr" style="left:52px;top:823px;width:170px;height:90px"></div>
<div class="fr" style="left:252px;top:373px;width:200px;height:640px"></div>
<div class="fr" style="left:472px;top:373px;width:170px;height:300px"></div>
<div class="lb" style="left:51px;top:355px">Vehicle Parameters</div>
<div class="lb" style="left:251px;top:355px">OpenInverter Parameters</div>
<div class="lb" style="left:471px;top:355px">Run Controls</div>
<div class="lb" style="left:51px;top:805px">Flux Linkage Calculator</div>
<div class="lb" style="left:51px;top:378px">Vehicle Weight (kg)</div>
<div class="in" style="left:172px;top:372px;width:50px">500</div>
<div class="lb" style="left:51px;top:409px">Wheel Radius (m)</div>
<div class="in" style="left:172px;top:403px;width:50px">0.3</div>
<div class="lb" style="left:51px;top:440px">Gear Ratio</div>
<div class="in" style="left:172px;top:434px;width:50px">6</div>
<div class="lb" style="left:51px;top:471px">Vdc (V)</div>
<div class="in" style="left:172px;top:465px;width:50px">350</div>
<div class="lb" style="left:51px;top:502px">Lq (mH)</div>
<div class="in" style="left:172px;top:496px;width:50px">10</div>
<div class="lb" style="left:51px;top:533px">Ld (mH)</div>
<div class="in" style="left:172px;top:527px;width:50px">9</div>
<div class="lb" style="left:51px;top:564px">Rs (Ohm)</div>
<div class="in" style="left:172px;top:558px;width:50px">0.075</div>
<div class="lb" style="left:51px;top:595px">&lambda; ( mWeber)</div>
<div class="in" style="left:172px;top:589px;width:50px">90</div>
<div class="lb" style="left:51px;top:626px">&lambda;delta ( %/AId)</div>
<div class="in" style="left:172px;top:620px;width:50px">0.1</div>
<div class="lb" style="left:51px;top:657px">SyncDel (us)</div>
<div class="in" style="left:172px;top:651px;width:50px">16</div>
<div class="lb" style="left:51px;top:688px">Drag (%)</div>
<div class="in" style="left:172px;top:682px;width:50px">100</div>
<div class="lb" style="left:51px;top:719px">Loop Frequency (Hz)</div>
<div class="in" style="left:172px;top:713px;width:50px">8333</div>
<div class="lb" style="left:51px;top:750px">Sampling Point (%)</div>
<div class="in" style="left:172px;top:744px;width:50px">50</div>
<div class="lb" style="left:51px;top:828px">Base Frequency (rpm)</div>
<div class="in" style="left:180px;top:822px;width:42px">5000</div>
<div class="lb" style="left:51px;top:859px">Base Voltage (V)</div>
<div class="in" style="left:180px;top:853px;width:42px">300</div>
<div class="lb" style="left:51px;top:890px">&lambda; ( Weber)</div>
<div class="in" style="left:180px;top:884px;width:42px">0.14</div>
<div class="lb" style="left:251px;top:378px">Torque Demand (%)</div>
<div class="in" style="left:393px;top:372px;width:59px">100</div>
<div class="lb" style="left:251px;top:409px">Throttle Current (A/%)</div>
<div class="in" style="left:393px;top:403px;width:59px">3</div>
<div class="lb" style="left:251px;top:440px">Mode (1=Run,2=Man)</div>
<div class="in" style="left:393px;top:434px;width:59px">1</div>
<div class="lb" style="left:251px;top:471px">Direction (-1=R,0=N,1=F)</div>
<div class="in" style="left:393px;top:465px;width:59px">1</div>
<div class="lb" style="left:251px;top:502px">Iq Manual</div>
<div class="in" style="left:393px;top:496px;width:59px">0.0</div>
<div class="lb" style="left:251px;top:533px">Id Manual</div>
<div class="in" style="left:393px;top:527px;width:59px">0.0</div>
<div class="lb" style="left:251px;top:580px">Motor Poles</div>
<div class="in" style="left:393px;top:574px;width:59px">4</div>
<div class="lb" style="left:251px;top:611px">Current Kp</div>
<div class="in" style="left:393px;top:605px;width:59px">50</div>
<div class="lb" style="left:251px;top:642px">Current Ki</div>
<div class="in" style="left:393px;top:636px;width:59px">35000</div>
<div class="lb" style="left:251px;top:673px">FW Kp</div>
<div class="in" style="left:393px;top:667px;width:59px">5</div>
<div class="lb" style="left:251px;top:704px">FW Ki</div>
<div class="in" style="left:393px;top:698px;width:59px">50</div>
<div class="lb" style="left:251px;top:735px">ULim Kp</div>
<div class="in" style="left:393px;top:729px;width:59px">3</div>
<div class="lb" style="left:251px;top:766px">ULim Ki</div>
<div class="in" style="left:393px;top:760px;width:59px">10</div>
<div class="lb" style="left:251px;top:797px">Lq - Ld (mH)</div>
<div class="in" style="left:393px;top:791px;width:59px">1.0</div>
<div class="lb" style="left:251px;top:828px">SyncAdv (dig/Hz)</div>
<div class="in" style="left:393px;top:822px;width:59px">0</div>
<div class="lb" style="left:251px;top:859px">SyncOfs</div>
<div class="in" style="left:393px;top:853px;width:59px">0</div>
<div class="lb" style="left:251px;top:890px">FW Start (Hz)</div>
<div class="in" style="left:393px;top:884px;width:59px">83</div>
<div class="lb" style="left:251px;top:921px">FMax (Hz)</div>
<div class="in" style="left:393px;top:915px;width:59px">200.0</div>
<div class="lb" style="left:258px;top:951px;font-size:12px">Extra Cycle Delay</div>
<div class="cb" style="left:359px;top:950px"></div>
<div class="bt" style="left:471px;top:372px">Run For (s)</div>
<div class="bt" style="left:471px;top:403px">Run (10s)</div>
<div class="bt" style="left:471px;top:434px">Run (1s)</div>
<div class="bt" style="left:471px;top:465px">Run (100ms)</div>
<div class="bt" style="left:471px;top:496px">Run (10ms)</div>
<div class="bt" style="left:471px;top:527px">Step</div>
<div class="bt" style="left:471px;top:558px">Transient</div>
<div class="bt" style="left:471px;top:635px">Restart</div>
<div class="in" style="left:557px;top:372px;width:85px">6</div>
<div class="gd" style="left:683px;top:1068px;background:#b0b0b0"></div>
<div class="gd" style="left:680px;top:1071px;background:#b0b0b0"></div>
<div class="gd" style="left:683px;top:1071px;background:#b0b0b0"></div>
<div class="gd" style="left:677px;top:1074px;background:#b0b0b0"></div>
<div class="gd" style="left:680px;top:1074px;background:#b0b0b0"></div>
<div class="gd" style="left:683px;top:1074px;background:#b0b0b0"></div>
<div class="gd" style="left:674px;top:1077px;background:#b0b0b0"></div>
<div class="gd" style="left:677px;top:1077px;background:#b0b0b0"></div>
<div class="gd" style="left:680px;top:1077px;background:#b0b0b0"></div>
<div class="gd" style="left:683px;top:1077px;background:#b0b0b0"></div>
</body></html>
